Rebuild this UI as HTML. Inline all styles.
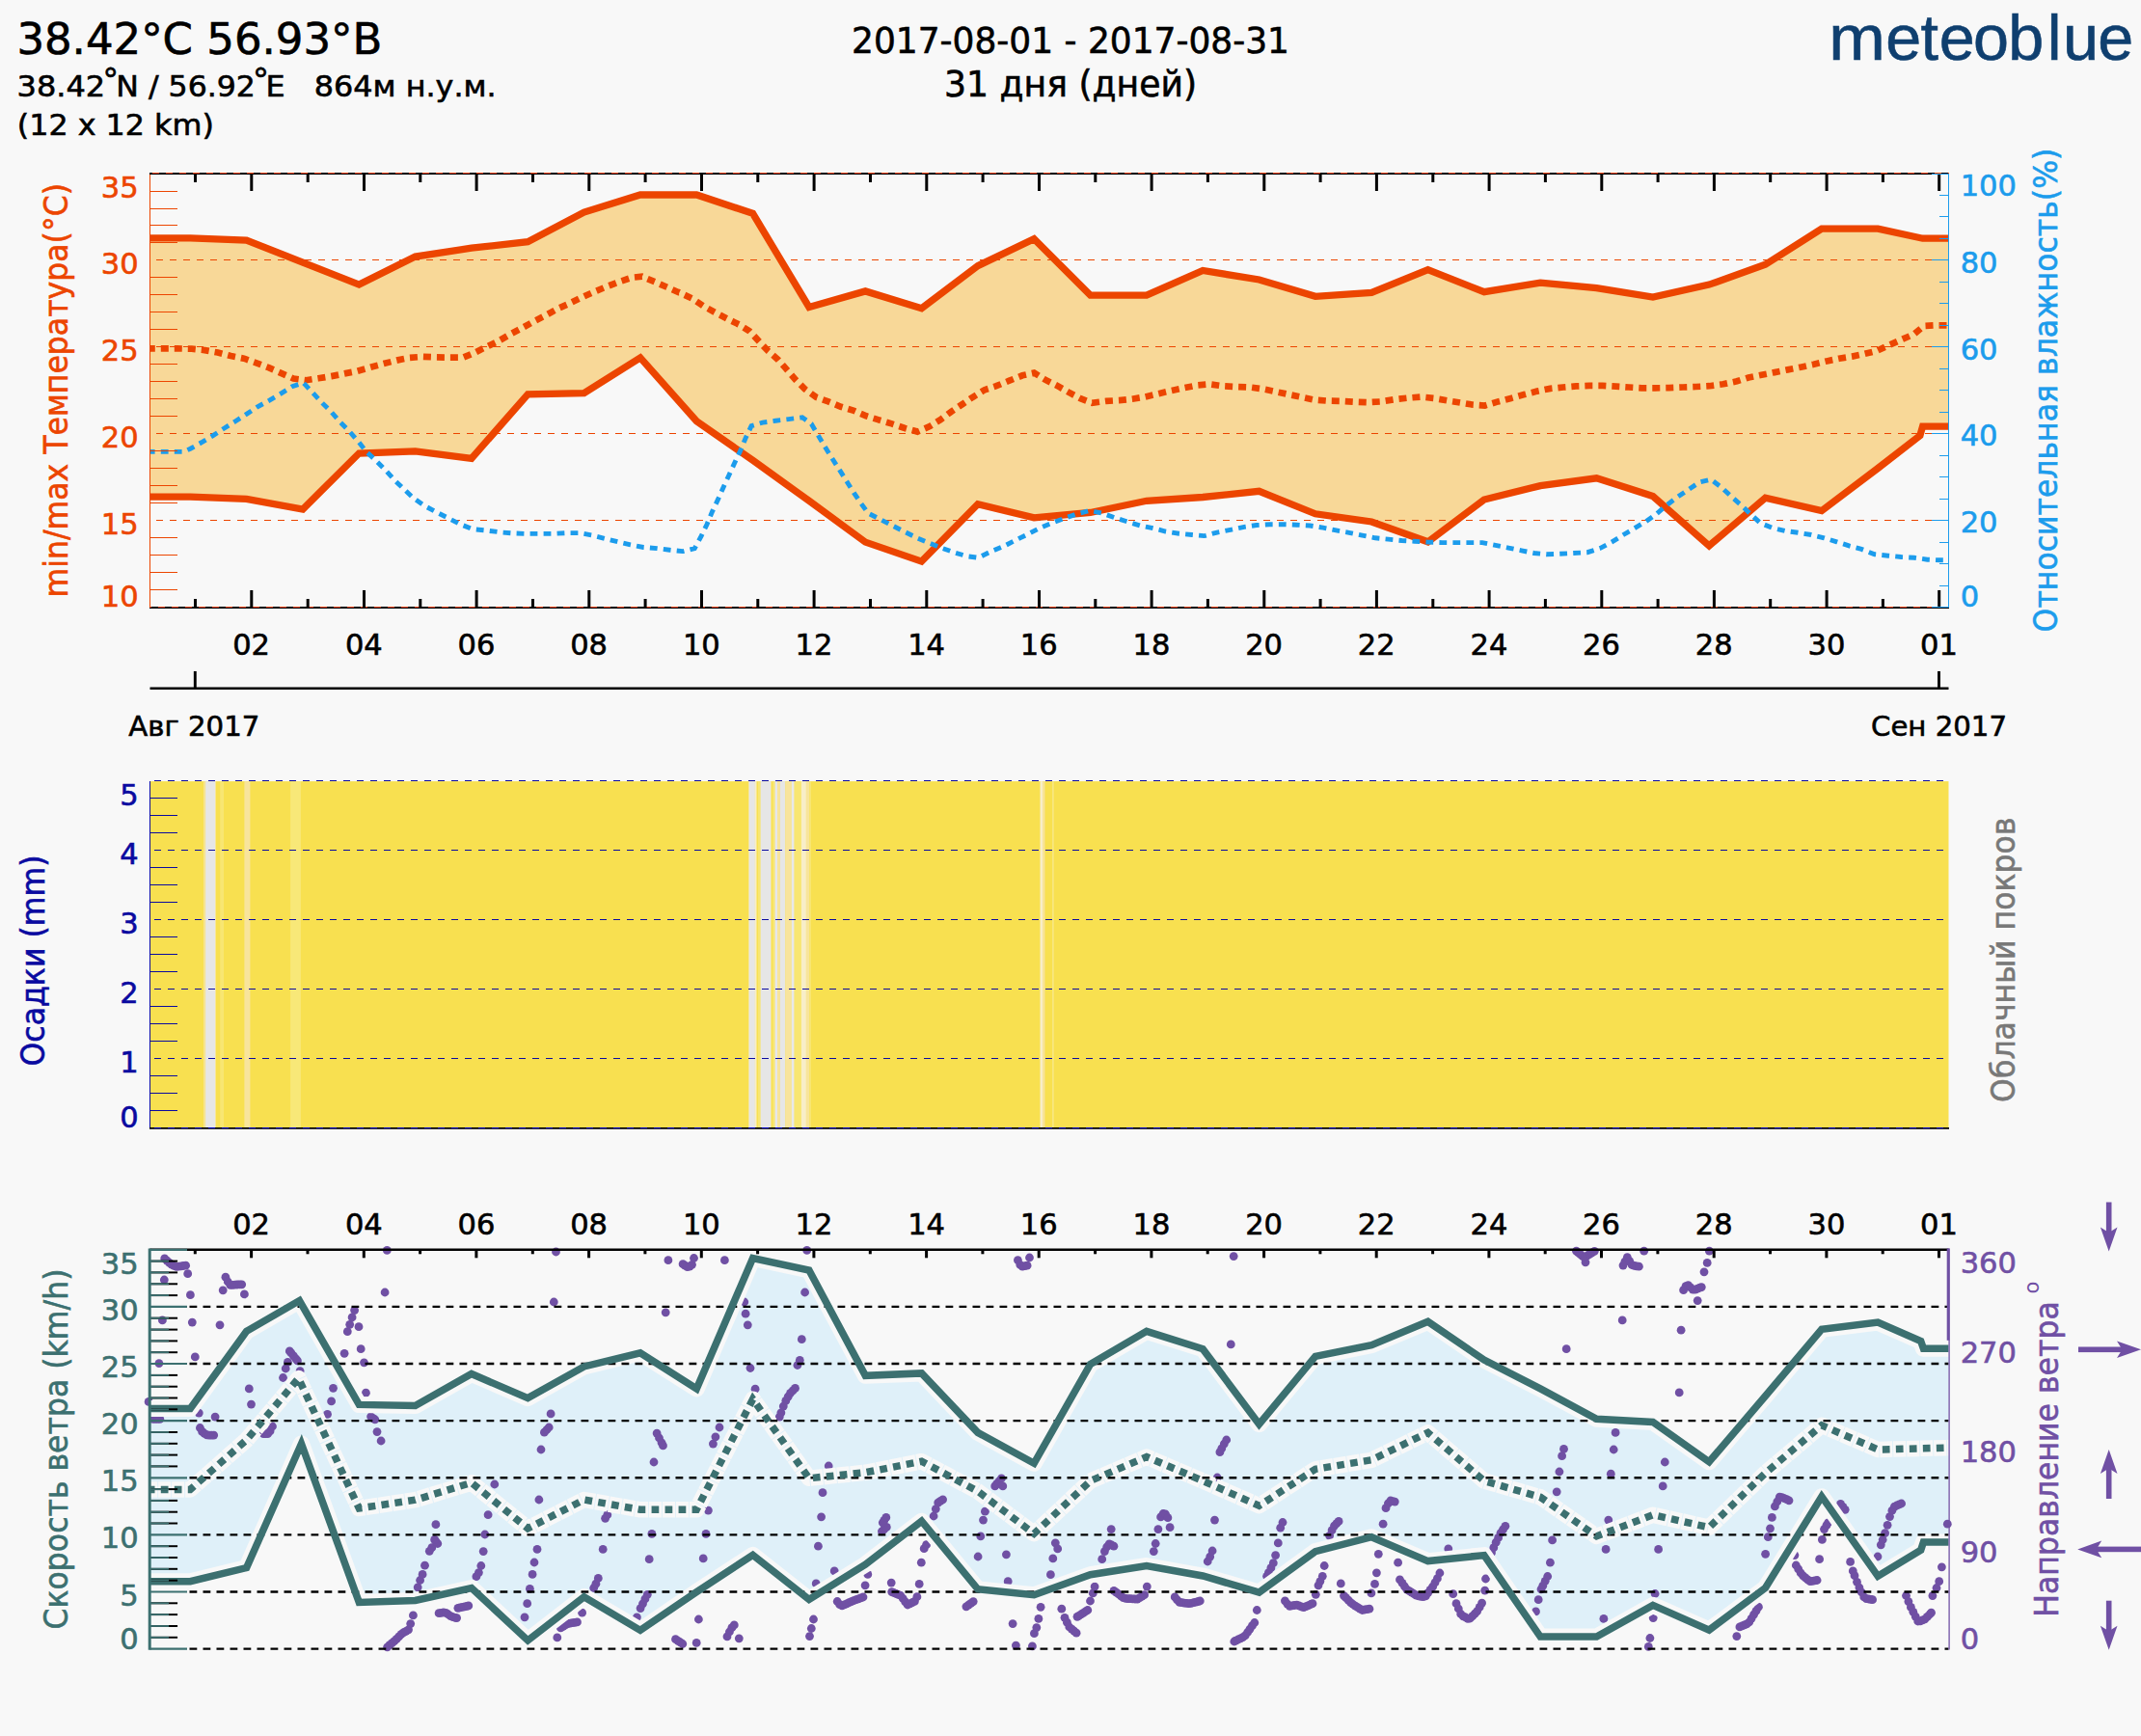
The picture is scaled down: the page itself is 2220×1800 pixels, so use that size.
<!DOCTYPE html>
<html lang="ru"><head><meta charset="utf-8"><title>meteoblue 38.42°C 56.93°В</title>
<style>html,body{margin:0;padding:0;background:#f8f8f8;}svg{display:block;}</style></head>
<body>
<svg width="2220" height="1800" viewBox="0 0 2220 1800" font-family="'DejaVu Sans','Liberation Sans',sans-serif">
<style>text{stroke-width:0.6px;paint-order:stroke fill} .k{stroke:#000} .thin{shape-rendering:crispEdges}</style>
<rect width="2220" height="1800" fill="#f8f8f8"/>
<text x="17.4" y="55.5" font-size="44.5" fill="#000" class="k" textLength="379" lengthAdjust="spacingAndGlyphs">38.42°C 56.93°В</text>
<text y="100.1" font-size="30.6" fill="#000" class="k" xml:space="preserve"><tspan x="17.6" textLength="91.6" lengthAdjust="spacingAndGlyphs">38.42</tspan><tspan x="106.4" dy="-5" font-size="33">°</tspan><tspan x="120.3" dy="5" textLength="144.6" lengthAdjust="spacingAndGlyphs">N / 56.92</tspan><tspan x="262" dy="-5" font-size="34">°</tspan><tspan x="275.4" dy="5" textLength="239.3" lengthAdjust="spacingAndGlyphs">E   864м н.у.м.</tspan></text>
<text x="17.8" y="139.7" font-size="30.6" fill="#000" class="k" textLength="204" lengthAdjust="spacingAndGlyphs">(12 x 12 km)</text>
<text x="1110" y="55.3" font-size="36.5" text-anchor="middle" fill="#000" class="k" textLength="454" lengthAdjust="spacingAndGlyphs">2017-08-01 - 2017-08-31</text>
<text x="1110" y="100.4" font-size="36.5" text-anchor="middle" fill="#000" class="k" textLength="262" lengthAdjust="spacingAndGlyphs">31 дня (дней)</text>
<text y="61.5" font-size="66.5" font-family="'Liberation Sans',sans-serif" fill="#0f3f6f" stroke="#0f3f6f" stroke-width="2.1"><tspan x="1896.2" textLength="58.6" lengthAdjust="spacingAndGlyphs">m</tspan><tspan x="1955.3 1991.6 2010.8 2046 2082.3 2122.8 2139 2175.2">eteoblue</tspan></text>
<polygon points="155.5,246.9 197.3,246.9 255.6,249.1 314.0,272.1 372.3,295.1 430.6,266.1 488.9,257.2 547.3,250.7 605.6,220.1 663.9,202.0 722.3,202.0 780.6,221.4 838.9,318.4 897.3,301.9 955.6,319.7 1013.9,275.6 1072.2,247.7 1130.6,306.2 1188.9,306.2 1247.2,280.5 1305.6,290.0 1363.9,307.3 1422.2,303.5 1480.6,279.7 1538.9,302.7 1597.2,293.2 1655.5,298.6 1713.9,308.1 1772.2,295.1 1830.5,274.3 1888.9,237.2 1947.2,237.2 1993.6,247.2 2020.5,247.2 2020.5,442.1 1993.6,442.1 1990.9,451.6 1947.2,485.5 1888.9,529.6 1830.5,516.1 1772.2,565.9 1713.9,514.4 1655.5,495.8 1597.2,503.6 1538.9,518.0 1480.6,561.8 1422.2,541.0 1363.9,532.8 1305.6,509.3 1247.2,515.5 1188.9,519.3 1130.6,531.5 1072.2,536.9 1013.9,522.8 955.6,582.1 897.3,562.1 838.9,519.3 780.6,477.3 722.3,436.7 663.9,370.9 605.6,407.7 547.3,408.8 488.9,475.4 430.6,467.9 372.3,470.0 314.0,528.0 255.6,517.4 197.3,515.2 155.5,515.2" fill="#f8d898"/>
<line x1="162" y1="269.9" x2="2020.5" y2="269.9" stroke="#ec4500" stroke-width="1" stroke-dasharray="7 7" class="thin"/>
<line x1="162" y1="359.8" x2="2020.5" y2="359.8" stroke="#ec4500" stroke-width="1" stroke-dasharray="7 7" class="thin"/>
<line x1="162" y1="449.7" x2="2020.5" y2="449.7" stroke="#ec4500" stroke-width="1" stroke-dasharray="7 7" class="thin"/>
<line x1="162" y1="539.6" x2="2020.5" y2="539.6" stroke="#ec4500" stroke-width="1" stroke-dasharray="7 7" class="thin"/>
<polyline points="155.5,246.9 197.3,246.9 255.6,249.1 314.0,272.1 372.3,295.1 430.6,266.1 488.9,257.2 547.3,250.7 605.6,220.1 663.9,202.0 722.3,202.0 780.6,221.4 838.9,318.4 897.3,301.9 955.6,319.7 1013.9,275.6 1072.2,247.7 1130.6,306.2 1188.9,306.2 1247.2,280.5 1305.6,290.0 1363.9,307.3 1422.2,303.5 1480.6,279.7 1538.9,302.7 1597.2,293.2 1655.5,298.6 1713.9,308.1 1772.2,295.1 1830.5,274.3 1888.9,237.2 1947.2,237.2 1993.6,247.2 2020.5,247.2" fill="none" stroke="#ec4500" stroke-width="7.3" stroke-linejoin="miter"/>
<polyline points="155.5,515.2 197.3,515.2 255.6,517.4 314.0,528.0 372.3,470.0 430.6,467.9 488.9,475.4 547.3,408.8 605.6,407.7 663.9,370.9 722.3,436.7 780.6,477.3 838.9,519.3 897.3,562.1 955.6,582.1 1013.9,522.8 1072.2,536.9 1130.6,531.5 1188.9,519.3 1247.2,515.5 1305.6,509.3 1363.9,532.8 1422.2,541.0 1480.6,561.8 1538.9,518.0 1597.2,503.6 1655.5,495.8 1713.9,514.4 1772.2,565.9 1830.5,516.1 1888.9,529.6 1947.2,485.5 1990.9,451.6 1993.6,442.1 2020.5,442.1" fill="none" stroke="#ec4500" stroke-width="7.3" stroke-linejoin="miter"/>
<polyline points="155.5,361.4 170.3,361.4 183.8,361.4 198.7,361.7 212.3,363.1 225.8,365.5 239.4,369.0 252.9,371.7 265.9,376.3 278.6,381.2 290.8,386.6 304.3,392.6 317.3,394.2 330.1,392.3 343.6,390.1 357.1,387.4 370.7,384.7 384.2,380.7 397.8,377.1 411.3,373.6 424.8,370.9 438.4,369.8 451.9,370.4 465.5,370.6 480.4,370.6 492.5,365.5 504.7,359.5 516.9,353.6 529.1,346.6 541.3,340.1 553.5,333.3 565.7,327.1 577.8,320.3 590.0,314.9 602.2,308.9 615.7,302.7 628.7,297.3 641.5,292.4 655.0,287.8 665.8,286.7 679.4,292.4 691.6,297.8 703.8,303.2 704.1,303.2 717.6,309.5 729.8,317.6 742.0,324.3 754.2,330.6 766.3,336.5 777.2,343.3 787.2,354.1 796.1,363.6 807.0,373.1 816.4,383.9 825.1,393.9 834.6,403.4 846.2,411.8 858.9,416.4 871.9,421.8 885.5,425.9 898.2,431.3 911.2,435.4 924.7,439.4 938.3,444.0 951.3,447.6 964.0,442.1 974.8,435.4 986.5,426.7 997.9,419.1 1008.7,411.8 1020.9,404.2 1033.1,400.2 1046.6,394.7 1060.1,389.3 1072.3,386.6 1083.2,393.4 1096.7,400.2 1107.5,406.4 1119.7,412.9 1132.4,417.8 1146.8,415.9 1160.3,415.1 1173.9,413.7 1187.4,411.5 1200.9,408.3 1214.5,405.0 1228.0,402.1 1241.6,399.4 1254.1,398.3 1267.6,400.2 1282.0,401.0 1296.0,401.5 1310.1,403.4 1323.1,406.1 1336.7,409.1 1349.6,411.8 1362.4,414.5 1375.9,415.6 1390.8,415.9 1404.9,416.7 1418.4,417.2 1432.0,416.4 1445.5,414.2 1459.9,412.6 1473.4,411.5 1486.9,412.9 1500.5,415.3 1514.0,417.5 1527.6,419.7 1539.7,420.5 1553.3,416.4 1566.8,412.9 1580.4,409.1 1593.9,405.6 1607.4,402.9 1621.0,401.5 1634.5,400.4 1648.1,399.9 1661.6,399.9 1675.7,400.7 1688.7,401.5 1702.2,402.3 1716.3,402.3 1730.6,402.1 1745.0,401.5 1758.5,401.0 1772.6,400.2 1786.7,398.3 1801.0,395.3 1813.0,391.5 1826.5,388.8 1840.1,386.1 1853.6,383.4 1867.1,380.7 1880.7,377.7 1894.2,374.4 1907.0,371.7 1920.5,369.6 1933.5,366.9 1946.5,363.6 1959.2,357.7 1971.9,352.0 1984.4,346.6 1995.0,337.9 2007.4,337.3 2020.5,337.3" fill="none" stroke="#ec4500" stroke-width="6.7" stroke-dasharray="8 6" stroke-dashoffset="2.7"/>
<polyline points="155.5,468.4 190.6,468.4 197.4,465.2 209.6,458.4 220.9,451.6 232.6,444.0 244.2,436.7 255.6,429.4 267.0,421.8 279.4,415.1 290.8,408.3 303.0,400.7 314.6,396.9 324.7,407.7 334.1,417.8 343.6,427.2 353.1,438.1 362.6,447.6 372.0,458.4 380.2,468.7 389.6,477.3 399.1,486.8 409.4,498.2 419.4,507.7 428.9,516.6 439.7,524.2 451.9,530.7 464.1,536.9 477.6,543.7 489.8,548.6 503.4,549.9 518.3,551.8 531.8,552.9 545.3,553.4 560.2,553.4 573.8,553.4 587.3,552.6 600.9,552.6 614.4,555.1 627.9,558.6 640.7,561.8 653.7,564.8 667.2,567.5 681.3,568.6 694.3,570.2 707.8,571.6 708.1,571.6 720.3,568.6 727.1,555.9 733.0,543.7 738.7,530.1 744.7,517.4 750.1,505.2 756.1,492.2 761.7,480.0 767.7,467.3 773.1,454.3 779.1,441.6 790.7,438.1 804.3,436.2 817.8,434.6 831.9,432.7 841.3,439.4 848.4,451.6 855.7,463.8 863.3,476.0 870.6,487.4 877.9,499.0 885.5,511.2 892.8,522.0 900.4,532.3 913.9,539.1 926.9,545.8 938.8,551.8 951.0,557.8 964.0,563.2 976.2,568.1 989.7,572.9 1002.5,576.7 1014.1,578.3 1028.2,571.6 1041.2,566.2 1053.4,559.9 1065.6,554.0 1078.6,547.2 1090.7,542.3 1103.5,537.5 1117.0,532.8 1129.7,529.6 1142.7,532.0 1156.3,536.9 1169.3,541.0 1182.5,545.0 1195.5,547.7 1208.5,551.0 1222.6,553.2 1236.1,554.5 1248.3,555.6 1250.0,555.3 1263.0,551.8 1277.1,549.1 1290.1,546.4 1302.8,544.5 1316.3,543.7 1330.7,543.7 1344.8,544.2 1358.3,545.0 1371.9,547.2 1385.4,549.9 1398.9,552.3 1412.5,555.1 1426.0,557.8 1439.5,559.1 1453.6,560.5 1466.6,561.3 1480.2,562.1 1495.1,562.6 1508.6,562.6 1522.9,562.6 1537.0,562.6 1550.6,565.3 1564.1,568.1 1577.6,570.8 1590.6,573.5 1603.4,574.8 1616.9,574.3 1631.8,573.5 1645.9,572.7 1658.9,568.6 1671.1,562.1 1683.3,554.5 1694.9,547.7 1706.3,541.0 1717.6,532.8 1728.7,523.4 1739.6,515.2 1751.5,507.1 1762.6,499.8 1774.0,497.1 1784.8,505.2 1795.6,515.2 1806.5,524.7 1814.9,532.8 1825.2,542.3 1837.4,547.2 1850.9,550.4 1864.4,552.3 1878.0,554.5 1891.5,557.8 1904.5,561.8 1917.2,565.9 1930.2,569.4 1943.8,574.8 1957.9,576.2 1971.4,577.5 1984.9,578.3 1998.5,580.2 2012.0,580.8 2020.5,580.8" fill="none" stroke="#1c9cec" stroke-width="4.9" stroke-dasharray="7.8 6.2" stroke-dashoffset="2.7"/>
<line x1="155.5" y1="180.0" x2="155.5" y2="629.5" stroke="#ec4500" stroke-width="1" class="thin"/>
<line x1="155.5" y1="611.5" x2="184.0" y2="611.5" stroke="#ec4500" stroke-width="1" class="thin"/>
<line x1="155.5" y1="593.5" x2="184.0" y2="593.5" stroke="#ec4500" stroke-width="1" class="thin"/>
<line x1="155.5" y1="575.6" x2="184.0" y2="575.6" stroke="#ec4500" stroke-width="1" class="thin"/>
<line x1="155.5" y1="557.6" x2="184.0" y2="557.6" stroke="#ec4500" stroke-width="1" class="thin"/>
<line x1="155.5" y1="521.6" x2="184.0" y2="521.6" stroke="#ec4500" stroke-width="1" class="thin"/>
<line x1="155.5" y1="503.6" x2="184.0" y2="503.6" stroke="#ec4500" stroke-width="1" class="thin"/>
<line x1="155.5" y1="485.7" x2="184.0" y2="485.7" stroke="#ec4500" stroke-width="1" class="thin"/>
<line x1="155.5" y1="467.7" x2="184.0" y2="467.7" stroke="#ec4500" stroke-width="1" class="thin"/>
<line x1="155.5" y1="431.7" x2="184.0" y2="431.7" stroke="#ec4500" stroke-width="1" class="thin"/>
<line x1="155.5" y1="413.7" x2="184.0" y2="413.7" stroke="#ec4500" stroke-width="1" class="thin"/>
<line x1="155.5" y1="395.8" x2="184.0" y2="395.8" stroke="#ec4500" stroke-width="1" class="thin"/>
<line x1="155.5" y1="377.8" x2="184.0" y2="377.8" stroke="#ec4500" stroke-width="1" class="thin"/>
<line x1="155.5" y1="341.8" x2="184.0" y2="341.8" stroke="#ec4500" stroke-width="1" class="thin"/>
<line x1="155.5" y1="323.8" x2="184.0" y2="323.8" stroke="#ec4500" stroke-width="1" class="thin"/>
<line x1="155.5" y1="305.9" x2="184.0" y2="305.9" stroke="#ec4500" stroke-width="1" class="thin"/>
<line x1="155.5" y1="287.9" x2="184.0" y2="287.9" stroke="#ec4500" stroke-width="1" class="thin"/>
<line x1="155.5" y1="251.9" x2="184.0" y2="251.9" stroke="#ec4500" stroke-width="1" class="thin"/>
<line x1="155.5" y1="233.9" x2="184.0" y2="233.9" stroke="#ec4500" stroke-width="1" class="thin"/>
<line x1="155.5" y1="216.0" x2="184.0" y2="216.0" stroke="#ec4500" stroke-width="1" class="thin"/>
<line x1="155.5" y1="198.0" x2="184.0" y2="198.0" stroke="#ec4500" stroke-width="1" class="thin"/>
<line x1="155.0" y1="180.0" x2="2021.0" y2="180.0" stroke="#000" stroke-width="2.1"/>
<line x1="158.1" y1="179.5" x2="2020.5" y2="179.5" stroke="#ec4500" stroke-width="1" stroke-dasharray="7 7" class="thin"/>
<line x1="202.5" y1="180.0" x2="202.5" y2="189.0" stroke="#000" stroke-width="3"/>
<line x1="260.8" y1="180.0" x2="260.8" y2="198.0" stroke="#000" stroke-width="3"/>
<line x1="319.2" y1="180.0" x2="319.2" y2="189.0" stroke="#000" stroke-width="3"/>
<line x1="377.5" y1="180.0" x2="377.5" y2="198.0" stroke="#000" stroke-width="3"/>
<line x1="435.8" y1="180.0" x2="435.8" y2="189.0" stroke="#000" stroke-width="3"/>
<line x1="494.1" y1="180.0" x2="494.1" y2="198.0" stroke="#000" stroke-width="3"/>
<line x1="552.5" y1="180.0" x2="552.5" y2="189.0" stroke="#000" stroke-width="3"/>
<line x1="610.8" y1="180.0" x2="610.8" y2="198.0" stroke="#000" stroke-width="3"/>
<line x1="669.1" y1="180.0" x2="669.1" y2="189.0" stroke="#000" stroke-width="3"/>
<line x1="727.5" y1="180.0" x2="727.5" y2="198.0" stroke="#000" stroke-width="3"/>
<line x1="785.8" y1="180.0" x2="785.8" y2="189.0" stroke="#000" stroke-width="3"/>
<line x1="844.1" y1="180.0" x2="844.1" y2="198.0" stroke="#000" stroke-width="3"/>
<line x1="902.5" y1="180.0" x2="902.5" y2="189.0" stroke="#000" stroke-width="3"/>
<line x1="960.8" y1="180.0" x2="960.8" y2="198.0" stroke="#000" stroke-width="3"/>
<line x1="1019.1" y1="180.0" x2="1019.1" y2="189.0" stroke="#000" stroke-width="3"/>
<line x1="1077.5" y1="180.0" x2="1077.5" y2="198.0" stroke="#000" stroke-width="3"/>
<line x1="1135.8" y1="180.0" x2="1135.8" y2="189.0" stroke="#000" stroke-width="3"/>
<line x1="1194.1" y1="180.0" x2="1194.1" y2="198.0" stroke="#000" stroke-width="3"/>
<line x1="1252.4" y1="180.0" x2="1252.4" y2="189.0" stroke="#000" stroke-width="3"/>
<line x1="1310.8" y1="180.0" x2="1310.8" y2="198.0" stroke="#000" stroke-width="3"/>
<line x1="1369.1" y1="180.0" x2="1369.1" y2="189.0" stroke="#000" stroke-width="3"/>
<line x1="1427.4" y1="180.0" x2="1427.4" y2="198.0" stroke="#000" stroke-width="3"/>
<line x1="1485.8" y1="180.0" x2="1485.8" y2="189.0" stroke="#000" stroke-width="3"/>
<line x1="1544.1" y1="180.0" x2="1544.1" y2="198.0" stroke="#000" stroke-width="3"/>
<line x1="1602.4" y1="180.0" x2="1602.4" y2="189.0" stroke="#000" stroke-width="3"/>
<line x1="1660.8" y1="180.0" x2="1660.8" y2="198.0" stroke="#000" stroke-width="3"/>
<line x1="1719.1" y1="180.0" x2="1719.1" y2="189.0" stroke="#000" stroke-width="3"/>
<line x1="1777.4" y1="180.0" x2="1777.4" y2="198.0" stroke="#000" stroke-width="3"/>
<line x1="1835.7" y1="180.0" x2="1835.7" y2="189.0" stroke="#000" stroke-width="3"/>
<line x1="1894.1" y1="180.0" x2="1894.1" y2="198.0" stroke="#000" stroke-width="3"/>
<line x1="1952.4" y1="180.0" x2="1952.4" y2="189.0" stroke="#000" stroke-width="3"/>
<line x1="2010.7" y1="180.0" x2="2010.7" y2="198.0" stroke="#000" stroke-width="3"/>
<line x1="155.0" y1="630.0" x2="2021.0" y2="630.0" stroke="#000" stroke-width="2.1"/>
<line x1="155" y1="629.5" x2="2020.5" y2="629.5" stroke="#ec4500" stroke-width="1" stroke-dasharray="7 7" stroke-dashoffset="5" class="thin"/>
<line x1="202.5" y1="630.0" x2="202.5" y2="621.0" stroke="#000" stroke-width="3"/>
<line x1="260.8" y1="630.0" x2="260.8" y2="612.0" stroke="#000" stroke-width="3"/>
<line x1="319.2" y1="630.0" x2="319.2" y2="621.0" stroke="#000" stroke-width="3"/>
<line x1="377.5" y1="630.0" x2="377.5" y2="612.0" stroke="#000" stroke-width="3"/>
<line x1="435.8" y1="630.0" x2="435.8" y2="621.0" stroke="#000" stroke-width="3"/>
<line x1="494.1" y1="630.0" x2="494.1" y2="612.0" stroke="#000" stroke-width="3"/>
<line x1="552.5" y1="630.0" x2="552.5" y2="621.0" stroke="#000" stroke-width="3"/>
<line x1="610.8" y1="630.0" x2="610.8" y2="612.0" stroke="#000" stroke-width="3"/>
<line x1="669.1" y1="630.0" x2="669.1" y2="621.0" stroke="#000" stroke-width="3"/>
<line x1="727.5" y1="630.0" x2="727.5" y2="612.0" stroke="#000" stroke-width="3"/>
<line x1="785.8" y1="630.0" x2="785.8" y2="621.0" stroke="#000" stroke-width="3"/>
<line x1="844.1" y1="630.0" x2="844.1" y2="612.0" stroke="#000" stroke-width="3"/>
<line x1="902.5" y1="630.0" x2="902.5" y2="621.0" stroke="#000" stroke-width="3"/>
<line x1="960.8" y1="630.0" x2="960.8" y2="612.0" stroke="#000" stroke-width="3"/>
<line x1="1019.1" y1="630.0" x2="1019.1" y2="621.0" stroke="#000" stroke-width="3"/>
<line x1="1077.5" y1="630.0" x2="1077.5" y2="612.0" stroke="#000" stroke-width="3"/>
<line x1="1135.8" y1="630.0" x2="1135.8" y2="621.0" stroke="#000" stroke-width="3"/>
<line x1="1194.1" y1="630.0" x2="1194.1" y2="612.0" stroke="#000" stroke-width="3"/>
<line x1="1252.4" y1="630.0" x2="1252.4" y2="621.0" stroke="#000" stroke-width="3"/>
<line x1="1310.8" y1="630.0" x2="1310.8" y2="612.0" stroke="#000" stroke-width="3"/>
<line x1="1369.1" y1="630.0" x2="1369.1" y2="621.0" stroke="#000" stroke-width="3"/>
<line x1="1427.4" y1="630.0" x2="1427.4" y2="612.0" stroke="#000" stroke-width="3"/>
<line x1="1485.8" y1="630.0" x2="1485.8" y2="621.0" stroke="#000" stroke-width="3"/>
<line x1="1544.1" y1="630.0" x2="1544.1" y2="612.0" stroke="#000" stroke-width="3"/>
<line x1="1602.4" y1="630.0" x2="1602.4" y2="621.0" stroke="#000" stroke-width="3"/>
<line x1="1660.8" y1="630.0" x2="1660.8" y2="612.0" stroke="#000" stroke-width="3"/>
<line x1="1719.1" y1="630.0" x2="1719.1" y2="621.0" stroke="#000" stroke-width="3"/>
<line x1="1777.4" y1="630.0" x2="1777.4" y2="612.0" stroke="#000" stroke-width="3"/>
<line x1="1835.7" y1="630.0" x2="1835.7" y2="621.0" stroke="#000" stroke-width="3"/>
<line x1="1894.1" y1="630.0" x2="1894.1" y2="612.0" stroke="#000" stroke-width="3"/>
<line x1="1952.4" y1="630.0" x2="1952.4" y2="621.0" stroke="#000" stroke-width="3"/>
<line x1="2010.7" y1="630.0" x2="2010.7" y2="612.0" stroke="#000" stroke-width="3"/>
<line x1="2020.5" y1="180.0" x2="2020.5" y2="629.5" stroke="#1c9cec" stroke-width="1" class="thin"/>
<line x1="2002.5" y1="629.5" x2="2020.5" y2="629.5" stroke="#1c9cec" stroke-width="1" class="thin"/>
<line x1="2011.0" y1="607.0" x2="2020.5" y2="607.0" stroke="#1c9cec" stroke-width="1" class="thin"/>
<line x1="2011.0" y1="584.5" x2="2020.5" y2="584.5" stroke="#1c9cec" stroke-width="1" class="thin"/>
<line x1="2011.0" y1="562.1" x2="2020.5" y2="562.1" stroke="#1c9cec" stroke-width="1" class="thin"/>
<line x1="2002.5" y1="539.6" x2="2020.5" y2="539.6" stroke="#1c9cec" stroke-width="1" class="thin"/>
<line x1="2011.0" y1="517.1" x2="2020.5" y2="517.1" stroke="#1c9cec" stroke-width="1" class="thin"/>
<line x1="2011.0" y1="494.6" x2="2020.5" y2="494.6" stroke="#1c9cec" stroke-width="1" class="thin"/>
<line x1="2011.0" y1="472.2" x2="2020.5" y2="472.2" stroke="#1c9cec" stroke-width="1" class="thin"/>
<line x1="2002.5" y1="449.7" x2="2020.5" y2="449.7" stroke="#1c9cec" stroke-width="1" class="thin"/>
<line x1="2011.0" y1="427.2" x2="2020.5" y2="427.2" stroke="#1c9cec" stroke-width="1" class="thin"/>
<line x1="2011.0" y1="404.8" x2="2020.5" y2="404.8" stroke="#1c9cec" stroke-width="1" class="thin"/>
<line x1="2011.0" y1="382.3" x2="2020.5" y2="382.3" stroke="#1c9cec" stroke-width="1" class="thin"/>
<line x1="2002.5" y1="359.8" x2="2020.5" y2="359.8" stroke="#1c9cec" stroke-width="1" class="thin"/>
<line x1="2011.0" y1="337.3" x2="2020.5" y2="337.3" stroke="#1c9cec" stroke-width="1" class="thin"/>
<line x1="2011.0" y1="314.9" x2="2020.5" y2="314.9" stroke="#1c9cec" stroke-width="1" class="thin"/>
<line x1="2011.0" y1="292.4" x2="2020.5" y2="292.4" stroke="#1c9cec" stroke-width="1" class="thin"/>
<line x1="2002.5" y1="269.9" x2="2020.5" y2="269.9" stroke="#1c9cec" stroke-width="1" class="thin"/>
<line x1="2011.0" y1="247.4" x2="2020.5" y2="247.4" stroke="#1c9cec" stroke-width="1" class="thin"/>
<line x1="2011.0" y1="224.9" x2="2020.5" y2="224.9" stroke="#1c9cec" stroke-width="1" class="thin"/>
<line x1="2011.0" y1="202.5" x2="2020.5" y2="202.5" stroke="#1c9cec" stroke-width="1" class="thin"/>
<line x1="2002.5" y1="180.0" x2="2020.5" y2="180.0" stroke="#1c9cec" stroke-width="1" class="thin"/>
<text x="143.6" y="204.6" font-size="30.5" text-anchor="end" fill="#ec4500" stroke="#ec4500">35</text>
<text x="143.6" y="284.0" font-size="30.5" text-anchor="end" fill="#ec4500" stroke="#ec4500">30</text>
<text x="143.6" y="373.8" font-size="30.5" text-anchor="end" fill="#ec4500" stroke="#ec4500">25</text>
<text x="143.6" y="463.7" font-size="30.5" text-anchor="end" fill="#ec4500" stroke="#ec4500">20</text>
<text x="143.6" y="553.6" font-size="30.5" text-anchor="end" fill="#ec4500" stroke="#ec4500">15</text>
<text x="143.6" y="629.3" font-size="30.5" text-anchor="end" fill="#ec4500" stroke="#ec4500">10</text>
<text x="2032.7" y="202.6" font-size="30.5" fill="#1c9cec" stroke="#1c9cec">100</text>
<text x="2032.7" y="282.6" font-size="30.5" fill="#1c9cec" stroke="#1c9cec">80</text>
<text x="2032.7" y="372.5" font-size="30.5" fill="#1c9cec" stroke="#1c9cec">60</text>
<text x="2032.7" y="462.4" font-size="30.5" fill="#1c9cec" stroke="#1c9cec">40</text>
<text x="2032.7" y="552.3" font-size="30.5" fill="#1c9cec" stroke="#1c9cec">20</text>
<text x="2032.7" y="629.0" font-size="30.5" fill="#1c9cec" stroke="#1c9cec">0</text>
<text transform="translate(69.8,404.8) rotate(-90) scale(0.915,1)" font-size="34.5" text-anchor="middle" fill="#ec4500" stroke="#ec4500">min/max Температура(°C)</text>
<text transform="translate(2132.6,404.5) rotate(-90) scale(0.915,1)" font-size="34.5" text-anchor="middle" fill="#1c9cec" stroke="#1c9cec">Относительная влажность(%)</text>
<text x="260.6" y="679" font-size="30.5" text-anchor="middle" fill="#000" class="k">02</text>
<text x="377.3" y="679" font-size="30.5" text-anchor="middle" fill="#000" class="k">04</text>
<text x="493.9" y="679" font-size="30.5" text-anchor="middle" fill="#000" class="k">06</text>
<text x="610.6" y="679" font-size="30.5" text-anchor="middle" fill="#000" class="k">08</text>
<text x="727.3" y="679" font-size="30.5" text-anchor="middle" fill="#000" class="k">10</text>
<text x="843.9" y="679" font-size="30.5" text-anchor="middle" fill="#000" class="k">12</text>
<text x="960.6" y="679" font-size="30.5" text-anchor="middle" fill="#000" class="k">14</text>
<text x="1077.2" y="679" font-size="30.5" text-anchor="middle" fill="#000" class="k">16</text>
<text x="1193.9" y="679" font-size="30.5" text-anchor="middle" fill="#000" class="k">18</text>
<text x="1310.6" y="679" font-size="30.5" text-anchor="middle" fill="#000" class="k">20</text>
<text x="1427.2" y="679" font-size="30.5" text-anchor="middle" fill="#000" class="k">22</text>
<text x="1543.9" y="679" font-size="30.5" text-anchor="middle" fill="#000" class="k">24</text>
<text x="1660.5" y="679" font-size="30.5" text-anchor="middle" fill="#000" class="k">26</text>
<text x="1777.2" y="679" font-size="30.5" text-anchor="middle" fill="#000" class="k">28</text>
<text x="1893.9" y="679" font-size="30.5" text-anchor="middle" fill="#000" class="k">30</text>
<text x="2010.5" y="679" font-size="30.5" text-anchor="middle" fill="#000" class="k">01</text>
<line x1="155.5" y1="713.8" x2="2020.5" y2="713.8" stroke="#000" stroke-width="2.4"/>
<line x1="202.3" y1="696" x2="202.3" y2="713.8" stroke="#000" stroke-width="2.9"/>
<line x1="2010.5" y1="696" x2="2010.5" y2="713.8" stroke="#000" stroke-width="2.9"/>
<text x="201.3" y="762.6" font-size="29.2" text-anchor="middle" fill="#000" class="k">Авг 2017</text>
<text x="2010.5" y="762.6" font-size="29.2" text-anchor="middle" fill="#000" class="k">Сен 2017</text>
<rect x="155.5" y="810.1" width="1865.0" height="359.19999999999993" fill="#f8e050"/>
<rect x="211.0" y="810.1" width="2.1" height="359.19999999999993" fill="#f6e490"/>
<rect x="213.1" y="810.1" width="10.0" height="359.19999999999993" fill="#e6e6e6"/>
<rect x="223.1" y="810.1" width="0.9" height="359.19999999999993" fill="#f8e8a0"/>
<rect x="228.2" y="810.1" width="3.8" height="359.19999999999993" fill="#f8e672"/>
<rect x="253.4" y="810.1" width="6.0" height="359.19999999999993" fill="#f8e49c"/>
<rect x="301.1" y="810.1" width="10.8" height="359.19999999999993" fill="#f8e878"/>
<rect x="776.1" y="810.1" width="0.7" height="359.19999999999993" fill="#f4e8b8"/>
<rect x="776.8" y="810.1" width="6.1" height="359.19999999999993" fill="#e6e6e6"/>
<rect x="782.9" y="810.1" width="1.6" height="359.19999999999993" fill="#f8eec8"/>
<rect x="785.9" y="810.1" width="2.4" height="359.19999999999993" fill="#f8e672"/>
<rect x="788.3" y="810.1" width="0.5" height="359.19999999999993" fill="#f0e8c0"/>
<rect x="788.8" y="810.1" width="10.2" height="359.19999999999993" fill="#e6e6e6"/>
<rect x="799.0" y="810.1" width="0.7" height="359.19999999999993" fill="#f2e8b8"/>
<rect x="801.1" y="810.1" width="2.1" height="359.19999999999993" fill="#f8e672"/>
<rect x="803.2" y="810.1" width="0.5" height="359.19999999999993" fill="#f0e8c0"/>
<rect x="803.7" y="810.1" width="2.3" height="359.19999999999993" fill="#e6e6ea"/>
<rect x="806.0" y="810.1" width="2.8" height="359.19999999999993" fill="#f8e49c"/>
<rect x="808.8" y="810.1" width="5.4" height="359.19999999999993" fill="#e6e6e6"/>
<rect x="814.2" y="810.1" width="0.4" height="359.19999999999993" fill="#f0e8c8"/>
<rect x="814.6" y="810.1" width="5.7" height="359.19999999999993" fill="#f8e49c"/>
<rect x="820.3" y="810.1" width="0.4" height="359.19999999999993" fill="#f4eac0"/>
<rect x="820.7" y="810.1" width="2.8" height="359.19999999999993" fill="#e8e8ea"/>
<rect x="823.5" y="810.1" width="0.5" height="359.19999999999993" fill="#f4e8a0"/>
<rect x="824.0" y="810.1" width="6.5" height="359.19999999999993" fill="#f8e672"/>
<rect x="830.5" y="810.1" width="0.5" height="359.19999999999993" fill="#f8ea98"/>
<rect x="831.0" y="810.1" width="4.9" height="359.19999999999993" fill="#f8eec8"/>
<rect x="835.9" y="810.1" width="3.5" height="359.19999999999993" fill="#f8e49c"/>
<rect x="839.4" y="810.1" width="1.6" height="359.19999999999993" fill="#f8e672"/>
<rect x="1078.5" y="810.1" width="2.6" height="359.19999999999993" fill="#f8eec8"/>
<rect x="1081.1" y="810.1" width="2.3" height="359.19999999999993" fill="#f8e49c"/>
<rect x="1091.1" y="810.1" width="1.6" height="359.19999999999993" fill="#f8e884"/>
<line x1="159.9" y1="809.5" x2="2020.5" y2="809.5" stroke="#0a0aa0" stroke-width="1" stroke-dasharray="7 7" class="thin"/>
<line x1="159.9" y1="881.5" x2="2020.5" y2="881.5" stroke="#0a0aa0" stroke-width="1" stroke-dasharray="7 7" class="thin"/>
<line x1="159.9" y1="953.4" x2="2020.5" y2="953.4" stroke="#0a0aa0" stroke-width="1" stroke-dasharray="7 7" class="thin"/>
<line x1="159.9" y1="1025.4" x2="2020.5" y2="1025.4" stroke="#0a0aa0" stroke-width="1" stroke-dasharray="7 7" class="thin"/>
<line x1="159.9" y1="1097.3" x2="2020.5" y2="1097.3" stroke="#0a0aa0" stroke-width="1" stroke-dasharray="7 7" class="thin"/>
<line x1="155.0" y1="1169.9" x2="2021.0" y2="1169.9" stroke="#000" stroke-width="1.9"/>
<line x1="159.9" y1="1169.5" x2="2020.5" y2="1169.5" stroke="#0000c8" stroke-width="1" stroke-dasharray="7 7" class="thin"/>
<line x1="155.5" y1="809.5" x2="155.5" y2="1169.3" stroke="#0a0aa0" stroke-width="1" class="thin"/>
<line x1="155.5" y1="1151.3" x2="184.0" y2="1151.3" stroke="#0a0aa0" stroke-width="1" class="thin"/>
<line x1="155.5" y1="1133.3" x2="184.0" y2="1133.3" stroke="#0a0aa0" stroke-width="1" class="thin"/>
<line x1="155.5" y1="1115.3" x2="184.0" y2="1115.3" stroke="#0a0aa0" stroke-width="1" class="thin"/>
<line x1="155.5" y1="1079.3" x2="184.0" y2="1079.3" stroke="#0a0aa0" stroke-width="1" class="thin"/>
<line x1="155.5" y1="1061.4" x2="184.0" y2="1061.4" stroke="#0a0aa0" stroke-width="1" class="thin"/>
<line x1="155.5" y1="1043.4" x2="184.0" y2="1043.4" stroke="#0a0aa0" stroke-width="1" class="thin"/>
<line x1="155.5" y1="1007.4" x2="184.0" y2="1007.4" stroke="#0a0aa0" stroke-width="1" class="thin"/>
<line x1="155.5" y1="989.4" x2="184.0" y2="989.4" stroke="#0a0aa0" stroke-width="1" class="thin"/>
<line x1="155.5" y1="971.4" x2="184.0" y2="971.4" stroke="#0a0aa0" stroke-width="1" class="thin"/>
<line x1="155.5" y1="935.4" x2="184.0" y2="935.4" stroke="#0a0aa0" stroke-width="1" class="thin"/>
<line x1="155.5" y1="917.4" x2="184.0" y2="917.4" stroke="#0a0aa0" stroke-width="1" class="thin"/>
<line x1="155.5" y1="899.5" x2="184.0" y2="899.5" stroke="#0a0aa0" stroke-width="1" class="thin"/>
<line x1="155.5" y1="863.5" x2="184.0" y2="863.5" stroke="#0a0aa0" stroke-width="1" class="thin"/>
<line x1="155.5" y1="845.5" x2="184.0" y2="845.5" stroke="#0a0aa0" stroke-width="1" class="thin"/>
<line x1="155.5" y1="827.5" x2="184.0" y2="827.5" stroke="#0a0aa0" stroke-width="1" class="thin"/>
<text x="143.6" y="834.5" font-size="30.5" text-anchor="end" fill="#0a0aa0" stroke="#0a0aa0">5</text>
<text x="143.6" y="896.2" font-size="30.5" text-anchor="end" fill="#0a0aa0" stroke="#0a0aa0">4</text>
<text x="143.6" y="968.0" font-size="30.5" text-anchor="end" fill="#0a0aa0" stroke="#0a0aa0">3</text>
<text x="143.6" y="1039.9" font-size="30.5" text-anchor="end" fill="#0a0aa0" stroke="#0a0aa0">2</text>
<text x="143.6" y="1111.7" font-size="30.5" text-anchor="end" fill="#0a0aa0" stroke="#0a0aa0">1</text>
<text x="143.6" y="1169.4" font-size="30.5" text-anchor="end" fill="#0a0aa0" stroke="#0a0aa0">0</text>
<text transform="translate(46.2,996) rotate(-90) scale(0.915,1)" font-size="34.5" text-anchor="middle" fill="#0a0aa0" stroke="#0a0aa0">Осадки (mm)</text>
<text transform="translate(2088.8,995.2) rotate(-90) scale(0.915,1)" font-size="34.5" text-anchor="middle" fill="#787878" stroke="#787878">Облачный покров</text>
<text x="260.6" y="1280" font-size="30.5" text-anchor="middle" fill="#000" class="k">02</text>
<text x="377.3" y="1280" font-size="30.5" text-anchor="middle" fill="#000" class="k">04</text>
<text x="493.9" y="1280" font-size="30.5" text-anchor="middle" fill="#000" class="k">06</text>
<text x="610.6" y="1280" font-size="30.5" text-anchor="middle" fill="#000" class="k">08</text>
<text x="727.3" y="1280" font-size="30.5" text-anchor="middle" fill="#000" class="k">10</text>
<text x="843.9" y="1280" font-size="30.5" text-anchor="middle" fill="#000" class="k">12</text>
<text x="960.6" y="1280" font-size="30.5" text-anchor="middle" fill="#000" class="k">14</text>
<text x="1077.2" y="1280" font-size="30.5" text-anchor="middle" fill="#000" class="k">16</text>
<text x="1193.9" y="1280" font-size="30.5" text-anchor="middle" fill="#000" class="k">18</text>
<text x="1310.6" y="1280" font-size="30.5" text-anchor="middle" fill="#000" class="k">20</text>
<text x="1427.2" y="1280" font-size="30.5" text-anchor="middle" fill="#000" class="k">22</text>
<text x="1543.9" y="1280" font-size="30.5" text-anchor="middle" fill="#000" class="k">24</text>
<text x="1660.5" y="1280" font-size="30.5" text-anchor="middle" fill="#000" class="k">26</text>
<text x="1777.2" y="1280" font-size="30.5" text-anchor="middle" fill="#000" class="k">28</text>
<text x="1893.9" y="1280" font-size="30.5" text-anchor="middle" fill="#000" class="k">30</text>
<text x="2010.5" y="1280" font-size="30.5" text-anchor="middle" fill="#000" class="k">01</text>
<polygon points="155.5,1460.5 197.3,1460.5 255.6,1380.3 310.5,1348.6 372.3,1456.4 430.6,1457.5 488.9,1424.5 547.3,1449.6 605.6,1416.9 663.9,1402.8 722.3,1439.9 780.6,1304.5 838.9,1317.0 897.3,1426.3 955.6,1423.9 1013.9,1485.4 1072.2,1517.3 1130.6,1414.4 1188.9,1380.3 1247.2,1398.7 1305.6,1476.7 1363.9,1406.3 1422.2,1394.7 1480.6,1370.3 1538.9,1410.1 1597.2,1439.9 1655.5,1471.3 1713.9,1474.5 1772.2,1515.7 1830.5,1447.5 1888.9,1378.4 1947.2,1371.1 1991.7,1390.6 1994.4,1398.2 2020.5,1398.2 2020.5,1599.1 1994.4,1599.1 1991.7,1607.2 1947.2,1634.3 1888.9,1551.7 1830.5,1646.5 1772.2,1690.1 1713.9,1664.4 1655.5,1697.1 1597.2,1697.1 1538.9,1612.6 1480.6,1618.6 1422.2,1593.7 1363.9,1608.6 1305.6,1651.1 1247.2,1634.0 1188.9,1623.5 1130.6,1632.7 1072.2,1653.8 1013.9,1647.8 955.6,1577.2 897.3,1622.1 838.9,1658.4 780.6,1612.4 722.3,1650.6 663.9,1690.4 605.6,1655.7 547.3,1700.9 488.9,1646.5 430.6,1659.5 372.3,1661.4 312.5,1497.0 255.6,1625.6 197.3,1639.7 155.5,1639.7" fill="#dff0f9"/>
<g fill="#7050a4"><circle cx="170.7" cy="1304.9" r="4.4"/><circle cx="173.1" cy="1307.1" r="4.4"/><circle cx="175.6" cy="1309.3" r="4.4"/><circle cx="178.0" cy="1311.2" r="4.4"/><circle cx="180.4" cy="1312.4" r="4.4"/><circle cx="182.9" cy="1313.4" r="4.4"/><circle cx="185.3" cy="1313.1" r="4.4"/><circle cx="187.7" cy="1312.8" r="4.4"/><circle cx="190.1" cy="1312.5" r="4.4"/><circle cx="192.6" cy="1312.2" r="4.4"/><circle cx="194.7" cy="1320.7" r="4.4"/><circle cx="170.3" cy="1327.0" r="4.4"/><circle cx="197.4" cy="1342.7" r="4.4"/><circle cx="168.4" cy="1368.9" r="4.4"/><circle cx="199.3" cy="1371.1" r="4.4"/><circle cx="202.3" cy="1406.9" r="4.4"/><circle cx="164.9" cy="1413.6" r="4.4"/><circle cx="154.1" cy="1453.4" r="4.4"/><circle cx="158.6" cy="1471.3" r="4.4"/><circle cx="161.0" cy="1471.3" r="4.4"/><circle cx="163.4" cy="1471.3" r="4.4"/><circle cx="165.8" cy="1471.3" r="4.4"/><circle cx="206.3" cy="1465.1" r="4.4"/><circle cx="207.4" cy="1480.5" r="4.4"/><circle cx="209.6" cy="1484.4" r="4.4"/><circle cx="212.0" cy="1486.4" r="4.4"/><circle cx="214.5" cy="1487.8" r="4.4"/><circle cx="216.9" cy="1488.1" r="4.4"/><circle cx="219.3" cy="1488.1" r="4.4"/><circle cx="221.7" cy="1488.1" r="4.4"/><circle cx="223.1" cy="1469.1" r="4.4"/><circle cx="228.0" cy="1373.8" r="4.4"/><circle cx="231.2" cy="1337.8" r="4.4"/><circle cx="233.9" cy="1324.2" r="4.4"/><circle cx="236.3" cy="1329.0" r="4.4"/><circle cx="238.8" cy="1332.4" r="4.4"/><circle cx="241.2" cy="1332.3" r="4.4"/><circle cx="243.6" cy="1332.1" r="4.4"/><circle cx="246.0" cy="1332.0" r="4.4"/><circle cx="248.5" cy="1331.9" r="4.4"/><circle cx="250.7" cy="1331.8" r="4.4"/><circle cx="253.4" cy="1341.9" r="4.4"/><circle cx="258.3" cy="1439.9" r="4.4"/><circle cx="260.5" cy="1456.1" r="4.4"/><circle cx="273.2" cy="1486.7" r="4.4"/><circle cx="275.2" cy="1486.7" r="4.4"/><circle cx="277.6" cy="1486.7" r="4.4"/><circle cx="280.1" cy="1483.8" r="4.4"/><circle cx="282.5" cy="1479.0" r="4.4"/><circle cx="293.5" cy="1428.5" r="4.4"/><circle cx="296.2" cy="1419.0" r="4.4"/><circle cx="298.4" cy="1412.3" r="4.4"/><circle cx="300.3" cy="1400.9" r="4.4"/><circle cx="301.9" cy="1402.9" r="4.4"/><circle cx="304.4" cy="1405.9" r="4.4"/><circle cx="306.8" cy="1408.9" r="4.4"/><circle cx="308.4" cy="1410.9" r="4.4"/><circle cx="311.1" cy="1421.7" r="4.4"/><circle cx="339.5" cy="1466.4" r="4.4"/><circle cx="343.6" cy="1452.9" r="4.4"/><circle cx="345.5" cy="1439.3" r="4.4"/><circle cx="357.1" cy="1403.3" r="4.4"/><circle cx="360.3" cy="1380.7" r="4.4"/><circle cx="362.7" cy="1373.3" r="4.4"/><circle cx="365.1" cy="1365.9" r="4.4"/><circle cx="367.6" cy="1358.6" r="4.4"/><circle cx="372.0" cy="1375.7" r="4.4"/><circle cx="374.2" cy="1398.7" r="4.4"/><circle cx="377.5" cy="1412.8" r="4.4"/><circle cx="379.4" cy="1444.2" r="4.4"/><circle cx="384.6" cy="1468.8" r="4.4"/><circle cx="387.0" cy="1470.6" r="4.4"/><circle cx="388.8" cy="1471.8" r="4.4"/><circle cx="391.0" cy="1484.6" r="4.4"/><circle cx="395.1" cy="1494.0" r="4.4"/><circle cx="401.3" cy="1296.4" r="4.4"/><circle cx="399.1" cy="1340.0" r="4.4"/><circle cx="401.6" cy="1707.8" r="4.4"/><circle cx="404.0" cy="1705.7" r="4.4"/><circle cx="406.5" cy="1703.6" r="4.4"/><circle cx="408.9" cy="1701.6" r="4.4"/><circle cx="411.3" cy="1699.3" r="4.4"/><circle cx="413.7" cy="1696.9" r="4.4"/><circle cx="416.2" cy="1694.4" r="4.4"/><circle cx="418.6" cy="1692.7" r="4.4"/><circle cx="421.0" cy="1691.3" r="4.4"/><circle cx="423.5" cy="1689.8" r="4.4"/><circle cx="425.7" cy="1683.6" r="4.4"/><circle cx="428.4" cy="1674.9" r="4.4"/><circle cx="433.2" cy="1645.8" r="4.4"/><circle cx="435.6" cy="1638.5" r="4.4"/><circle cx="438.1" cy="1632.4" r="4.4"/><circle cx="440.5" cy="1623.2" r="4.4"/><circle cx="445.3" cy="1608.3" r="4.4"/><circle cx="447.8" cy="1604.7" r="4.4"/><circle cx="453.8" cy="1600.5" r="4.4"/><circle cx="451.9" cy="1598.1" r="4.4"/><circle cx="450.6" cy="1596.4" r="4.4"/><circle cx="451.9" cy="1580.7" r="4.4"/><circle cx="455.1" cy="1672.7" r="4.4"/><circle cx="457.5" cy="1672.3" r="4.4"/><circle cx="459.9" cy="1671.9" r="4.4"/><circle cx="462.4" cy="1672.3" r="4.4"/><circle cx="464.8" cy="1674.0" r="4.4"/><circle cx="467.2" cy="1675.6" r="4.4"/><circle cx="469.6" cy="1676.6" r="4.4"/><circle cx="472.1" cy="1677.3" r="4.4"/><circle cx="473.6" cy="1677.6" r="4.4"/><circle cx="474.9" cy="1667.3" r="4.4"/><circle cx="476.9" cy="1666.9" r="4.4"/><circle cx="479.4" cy="1666.3" r="4.4"/><circle cx="481.8" cy="1665.8" r="4.4"/><circle cx="484.2" cy="1665.3" r="4.4"/><circle cx="485.8" cy="1664.9" r="4.4"/><circle cx="493.9" cy="1634.7" r="4.4"/><circle cx="496.4" cy="1630.6" r="4.4"/><circle cx="498.8" cy="1623.5" r="4.4"/><circle cx="501.2" cy="1608.6" r="4.4"/><circle cx="502.8" cy="1591.0" r="4.4"/><circle cx="506.1" cy="1570.7" r="4.4"/><circle cx="512.8" cy="1539.0" r="4.4"/><circle cx="544.0" cy="1676.8" r="4.4"/><circle cx="546.7" cy="1662.7" r="4.4"/><circle cx="549.4" cy="1647.3" r="4.4"/><circle cx="552.1" cy="1632.4" r="4.4"/><circle cx="554.0" cy="1620.0" r="4.4"/><circle cx="557.0" cy="1606.4" r="4.4"/><circle cx="558.9" cy="1555.0" r="4.4"/><circle cx="561.0" cy="1503.0" r="4.4"/><circle cx="564.4" cy="1485.2" r="4.4"/><circle cx="566.9" cy="1482.5" r="4.4"/><circle cx="569.2" cy="1480.0" r="4.4"/><circle cx="571.1" cy="1465.9" r="4.4"/><circle cx="574.3" cy="1350.0" r="4.4"/><circle cx="576.5" cy="1298.0" r="4.4"/><circle cx="577.8" cy="1697.9" r="4.4"/><circle cx="581.4" cy="1687.9" r="4.4"/><circle cx="583.9" cy="1686.5" r="4.4"/><circle cx="586.3" cy="1685.0" r="4.4"/><circle cx="588.7" cy="1683.6" r="4.4"/><circle cx="591.2" cy="1683.2" r="4.4"/><circle cx="593.6" cy="1682.7" r="4.4"/><circle cx="596.0" cy="1682.3" r="4.4"/><circle cx="598.5" cy="1681.9" r="4.4"/><circle cx="603.6" cy="1672.2" r="4.4"/><circle cx="615.7" cy="1646.5" r="4.4"/><circle cx="617.9" cy="1642.2" r="4.4"/><circle cx="620.3" cy="1636.4" r="4.4"/><circle cx="625.2" cy="1606.4" r="4.4"/><circle cx="627.6" cy="1574.3" r="4.4"/><circle cx="629.8" cy="1570.7" r="4.4"/><circle cx="660.4" cy="1676.8" r="4.4"/><circle cx="664.1" cy="1667.6" r="4.4"/><circle cx="666.5" cy="1662.8" r="4.4"/><circle cx="668.9" cy="1657.9" r="4.4"/><circle cx="671.3" cy="1653.3" r="4.4"/><circle cx="673.2" cy="1616.7" r="4.4"/><circle cx="675.9" cy="1590.4" r="4.4"/><circle cx="678.0" cy="1516.0" r="4.4"/><circle cx="681.1" cy="1486.1" r="4.4"/><circle cx="683.5" cy="1491.0" r="4.4"/><circle cx="686.0" cy="1495.8" r="4.4"/><circle cx="687.5" cy="1498.9" r="4.4"/><circle cx="690.2" cy="1360.8" r="4.4"/><circle cx="692.9" cy="1306.7" r="4.4"/><circle cx="708.1" cy="1310.7" r="4.4"/><circle cx="710.3" cy="1312.1" r="4.4"/><circle cx="712.7" cy="1313.7" r="4.4"/><circle cx="715.1" cy="1313.1" r="4.4"/><circle cx="717.5" cy="1311.3" r="4.4"/><circle cx="719.5" cy="1304.5" r="4.4"/><circle cx="700.5" cy="1699.7" r="4.4"/><circle cx="703.0" cy="1701.3" r="4.4"/><circle cx="705.4" cy="1702.9" r="4.4"/><circle cx="707.8" cy="1704.5" r="4.4"/><circle cx="722.2" cy="1703.4" r="4.4"/><circle cx="724.4" cy="1679.0" r="4.4"/><circle cx="729.2" cy="1615.9" r="4.4"/><circle cx="732.0" cy="1590.4" r="4.4"/><circle cx="734.4" cy="1566.1" r="4.4"/><circle cx="739.4" cy="1497.1" r="4.4"/><circle cx="741.9" cy="1489.8" r="4.4"/><circle cx="746.0" cy="1480.0" r="4.4"/><circle cx="751.4" cy="1306.7" r="4.4"/><circle cx="754.0" cy="1696.9" r="4.4"/><circle cx="756.4" cy="1692.0" r="4.4"/><circle cx="758.9" cy="1687.7" r="4.4"/><circle cx="761.3" cy="1684.9" r="4.4"/><circle cx="766.3" cy="1698.8" r="4.4"/><circle cx="771.8" cy="1350.0" r="4.4"/><circle cx="773.1" cy="1362.2" r="4.4"/><circle cx="775.3" cy="1373.8" r="4.4"/><circle cx="778.0" cy="1418.5" r="4.4"/><circle cx="783.1" cy="1440.2" r="4.4"/><circle cx="808.3" cy="1469.1" r="4.4"/><circle cx="809.9" cy="1464.8" r="4.4"/><circle cx="812.3" cy="1458.1" r="4.4"/><circle cx="814.8" cy="1452.4" r="4.4"/><circle cx="817.2" cy="1448.2" r="4.4"/><circle cx="819.6" cy="1444.3" r="4.4"/><circle cx="822.1" cy="1441.8" r="4.4"/><circle cx="824.5" cy="1439.4" r="4.4"/><circle cx="826.9" cy="1415.5" r="4.4"/><circle cx="829.3" cy="1410.3" r="4.4"/><circle cx="831.3" cy="1388.7" r="4.4"/><circle cx="834.6" cy="1340.0" r="4.4"/><circle cx="836.7" cy="1296.4" r="4.4"/><circle cx="839.5" cy="1696.6" r="4.4"/><circle cx="841.3" cy="1688.5" r="4.4"/><circle cx="843.5" cy="1679.0" r="4.4"/><circle cx="846.2" cy="1641.9" r="4.4"/><circle cx="848.4" cy="1603.2" r="4.4"/><circle cx="851.6" cy="1572.8" r="4.4"/><circle cx="853.0" cy="1547.7" r="4.4"/><circle cx="859.2" cy="1520.0" r="4.4"/><circle cx="865.2" cy="1628.9" r="4.4"/><circle cx="868.2" cy="1660.5" r="4.4"/><circle cx="870.7" cy="1663.7" r="4.4"/><circle cx="873.1" cy="1664.9" r="4.4"/><circle cx="875.5" cy="1663.9" r="4.4"/><circle cx="878.0" cy="1662.8" r="4.4"/><circle cx="880.4" cy="1661.7" r="4.4"/><circle cx="882.8" cy="1660.6" r="4.4"/><circle cx="885.2" cy="1659.6" r="4.4"/><circle cx="887.7" cy="1658.7" r="4.4"/><circle cx="890.1" cy="1657.8" r="4.4"/><circle cx="892.5" cy="1656.9" r="4.4"/><circle cx="895.0" cy="1656.0" r="4.4"/><circle cx="897.1" cy="1643.8" r="4.4"/><circle cx="899.8" cy="1632.4" r="4.4"/><circle cx="914.4" cy="1587.8" r="4.4"/><circle cx="916.8" cy="1585.6" r="4.4"/><circle cx="919.3" cy="1583.4" r="4.4"/><circle cx="915.3" cy="1578.8" r="4.4"/><circle cx="916.8" cy="1576.4" r="4.4"/><circle cx="918.8" cy="1573.4" r="4.4"/><circle cx="924.2" cy="1641.1" r="4.4"/><circle cx="924.7" cy="1650.6" r="4.4"/><circle cx="926.6" cy="1651.3" r="4.4"/><circle cx="929.0" cy="1652.4" r="4.4"/><circle cx="931.4" cy="1653.4" r="4.4"/><circle cx="933.9" cy="1654.5" r="4.4"/><circle cx="936.3" cy="1657.5" r="4.4"/><circle cx="938.7" cy="1660.9" r="4.4"/><circle cx="941.1" cy="1664.0" r="4.4"/><circle cx="943.6" cy="1662.8" r="4.4"/><circle cx="946.0" cy="1661.6" r="4.4"/><circle cx="948.4" cy="1660.4" r="4.4"/><circle cx="950.9" cy="1655.7" r="4.4"/><circle cx="953.2" cy="1642.4" r="4.4"/><circle cx="955.3" cy="1620.2" r="4.4"/><circle cx="958.2" cy="1605.7" r="4.4"/><circle cx="960.6" cy="1601.7" r="4.4"/><circle cx="968.1" cy="1572.0" r="4.4"/><circle cx="970.3" cy="1564.6" r="4.4"/><circle cx="972.7" cy="1558.1" r="4.4"/><circle cx="975.2" cy="1556.4" r="4.4"/><circle cx="977.6" cy="1554.8" r="4.4"/><circle cx="1001.9" cy="1665.8" r="4.4"/><circle cx="1004.3" cy="1664.1" r="4.4"/><circle cx="1006.8" cy="1662.4" r="4.4"/><circle cx="1009.2" cy="1660.6" r="4.4"/><circle cx="1014.1" cy="1614.0" r="4.4"/><circle cx="1016.8" cy="1592.9" r="4.4"/><circle cx="1019.5" cy="1576.1" r="4.4"/><circle cx="1021.4" cy="1567.2" r="4.4"/><circle cx="1031.7" cy="1540.9" r="4.4"/><circle cx="1033.5" cy="1538.7" r="4.4"/><circle cx="1035.9" cy="1535.8" r="4.4"/><circle cx="1038.4" cy="1532.9" r="4.4"/><circle cx="1039.8" cy="1540.9" r="4.4"/><circle cx="1043.4" cy="1611.8" r="4.4"/><circle cx="1045.2" cy="1639.7" r="4.4"/><circle cx="1050.1" cy="1683.6" r="4.4"/><circle cx="1053.4" cy="1706.1" r="4.4"/><circle cx="1055.4" cy="1306.6" r="4.4"/><circle cx="1057.8" cy="1311.5" r="4.4"/><circle cx="1060.2" cy="1313.1" r="4.4"/><circle cx="1062.7" cy="1312.7" r="4.4"/><circle cx="1065.1" cy="1312.2" r="4.4"/><circle cx="1067.5" cy="1304.0" r="4.4"/><circle cx="1070.4" cy="1706.9" r="4.4"/><circle cx="1072.4" cy="1693.7" r="4.4"/><circle cx="1074.8" cy="1687.6" r="4.4"/><circle cx="1076.9" cy="1678.4" r="4.4"/><circle cx="1079.1" cy="1666.3" r="4.4"/><circle cx="1089.4" cy="1632.7" r="4.4"/><circle cx="1091.8" cy="1615.9" r="4.4"/><circle cx="1094.3" cy="1599.8" r="4.4"/><circle cx="1096.7" cy="1605.9" r="4.4"/><circle cx="1100.8" cy="1668.2" r="4.4"/><circle cx="1104.0" cy="1677.3" r="4.4"/><circle cx="1106.4" cy="1682.2" r="4.4"/><circle cx="1108.8" cy="1687.0" r="4.4"/><circle cx="1111.3" cy="1689.1" r="4.4"/><circle cx="1113.7" cy="1691.1" r="4.4"/><circle cx="1116.1" cy="1693.2" r="4.4"/><circle cx="1117.0" cy="1676.3" r="4.4"/><circle cx="1118.6" cy="1675.3" r="4.4"/><circle cx="1121.0" cy="1673.8" r="4.4"/><circle cx="1123.4" cy="1672.3" r="4.4"/><circle cx="1125.9" cy="1670.7" r="4.4"/><circle cx="1127.8" cy="1669.5" r="4.4"/><circle cx="1130.5" cy="1660.0" r="4.4"/><circle cx="1133.3" cy="1651.9" r="4.4"/><circle cx="1135.1" cy="1645.1" r="4.4"/><circle cx="1142.7" cy="1616.7" r="4.4"/><circle cx="1145.4" cy="1608.6" r="4.4"/><circle cx="1147.7" cy="1604.0" r="4.4"/><circle cx="1150.2" cy="1600.8" r="4.4"/><circle cx="1152.6" cy="1602.0" r="4.4"/><circle cx="1154.9" cy="1603.2" r="4.4"/><circle cx="1152.2" cy="1585.6" r="4.4"/><circle cx="1155.0" cy="1649.3" r="4.4"/><circle cx="1157.5" cy="1651.1" r="4.4"/><circle cx="1159.9" cy="1652.9" r="4.4"/><circle cx="1162.3" cy="1654.8" r="4.4"/><circle cx="1164.7" cy="1656.6" r="4.4"/><circle cx="1167.2" cy="1657.4" r="4.4"/><circle cx="1169.6" cy="1657.6" r="4.4"/><circle cx="1172.0" cy="1657.7" r="4.4"/><circle cx="1174.5" cy="1657.8" r="4.4"/><circle cx="1176.9" cy="1658.0" r="4.4"/><circle cx="1179.3" cy="1658.1" r="4.4"/><circle cx="1181.8" cy="1656.7" r="4.4"/><circle cx="1184.2" cy="1655.2" r="4.4"/><circle cx="1186.6" cy="1653.7" r="4.4"/><circle cx="1189.3" cy="1645.1" r="4.4"/><circle cx="1196.3" cy="1608.6" r="4.4"/><circle cx="1198.2" cy="1600.5" r="4.4"/><circle cx="1200.9" cy="1585.6" r="4.4"/><circle cx="1203.6" cy="1572.9" r="4.4"/><circle cx="1206.1" cy="1569.5" r="4.4"/><circle cx="1208.5" cy="1570.0" r="4.4"/><circle cx="1210.9" cy="1573.7" r="4.4"/><circle cx="1213.1" cy="1583.7" r="4.4"/><circle cx="1218.2" cy="1655.9" r="4.4"/><circle cx="1220.6" cy="1658.9" r="4.4"/><circle cx="1223.1" cy="1661.4" r="4.4"/><circle cx="1225.5" cy="1661.7" r="4.4"/><circle cx="1227.9" cy="1662.1" r="4.4"/><circle cx="1230.4" cy="1662.4" r="4.4"/><circle cx="1232.8" cy="1662.7" r="4.4"/><circle cx="1235.2" cy="1662.3" r="4.4"/><circle cx="1237.7" cy="1661.7" r="4.4"/><circle cx="1240.1" cy="1661.1" r="4.4"/><circle cx="1242.5" cy="1660.5" r="4.4"/><circle cx="1244.3" cy="1660.0" r="4.4"/><circle cx="1279.2" cy="1302.6" r="4.4"/><circle cx="1276.3" cy="1393.9" r="4.4"/><circle cx="1262.2" cy="1532.0" r="4.4"/><circle cx="1264.9" cy="1505.7" r="4.4"/><circle cx="1266.8" cy="1501.8" r="4.4"/><circle cx="1269.3" cy="1497.1" r="4.4"/><circle cx="1271.7" cy="1493.0" r="4.4"/><circle cx="1259.5" cy="1576.1" r="4.4"/><circle cx="1252.2" cy="1619.0" r="4.4"/><circle cx="1254.7" cy="1614.1" r="4.4"/><circle cx="1257.1" cy="1608.0" r="4.4"/><circle cx="1279.8" cy="1702.0" r="4.4"/><circle cx="1281.4" cy="1701.2" r="4.4"/><circle cx="1283.8" cy="1700.0" r="4.4"/><circle cx="1286.3" cy="1698.8" r="4.4"/><circle cx="1288.7" cy="1697.6" r="4.4"/><circle cx="1291.1" cy="1695.9" r="4.4"/><circle cx="1293.6" cy="1692.5" r="4.4"/><circle cx="1296.0" cy="1689.1" r="4.4"/><circle cx="1298.4" cy="1685.7" r="4.4"/><circle cx="1300.8" cy="1682.5" r="4.4"/><circle cx="1303.3" cy="1669.5" r="4.4"/><circle cx="1313.6" cy="1634.3" r="4.4"/><circle cx="1315.4" cy="1630.6" r="4.4"/><circle cx="1317.9" cy="1625.7" r="4.4"/><circle cx="1320.3" cy="1620.7" r="4.4"/><circle cx="1322.6" cy="1612.6" r="4.4"/><circle cx="1325.3" cy="1599.9" r="4.4"/><circle cx="1327.7" cy="1584.2" r="4.4"/><circle cx="1330.0" cy="1578.5" r="4.4"/><circle cx="1332.4" cy="1659.8" r="4.4"/><circle cx="1334.9" cy="1663.1" r="4.4"/><circle cx="1337.3" cy="1665.3" r="4.4"/><circle cx="1339.7" cy="1664.9" r="4.4"/><circle cx="1342.2" cy="1664.5" r="4.4"/><circle cx="1344.6" cy="1664.1" r="4.4"/><circle cx="1347.0" cy="1665.0" r="4.4"/><circle cx="1349.5" cy="1666.0" r="4.4"/><circle cx="1351.9" cy="1666.7" r="4.4"/><circle cx="1354.3" cy="1665.6" r="4.4"/><circle cx="1356.7" cy="1664.6" r="4.4"/><circle cx="1359.2" cy="1663.5" r="4.4"/><circle cx="1361.0" cy="1662.7" r="4.4"/><circle cx="1364.3" cy="1653.3" r="4.4"/><circle cx="1367.0" cy="1643.8" r="4.4"/><circle cx="1368.9" cy="1639.6" r="4.4"/><circle cx="1371.3" cy="1634.3" r="4.4"/><circle cx="1373.2" cy="1623.5" r="4.4"/><circle cx="1378.6" cy="1592.3" r="4.4"/><circle cx="1381.1" cy="1586.7" r="4.4"/><circle cx="1383.5" cy="1582.1" r="4.4"/><circle cx="1385.9" cy="1579.6" r="4.4"/><circle cx="1388.1" cy="1577.4" r="4.4"/><circle cx="1390.3" cy="1641.9" r="4.4"/><circle cx="1393.5" cy="1654.6" r="4.4"/><circle cx="1395.6" cy="1656.7" r="4.4"/><circle cx="1398.1" cy="1659.2" r="4.4"/><circle cx="1400.5" cy="1661.6" r="4.4"/><circle cx="1402.9" cy="1663.5" r="4.4"/><circle cx="1405.4" cy="1665.1" r="4.4"/><circle cx="1407.8" cy="1666.6" r="4.4"/><circle cx="1410.2" cy="1668.1" r="4.4"/><circle cx="1412.6" cy="1669.5" r="4.4"/><circle cx="1415.1" cy="1669.0" r="4.4"/><circle cx="1417.5" cy="1668.6" r="4.4"/><circle cx="1419.9" cy="1668.2" r="4.4"/><circle cx="1421.9" cy="1651.9" r="4.4"/><circle cx="1425.5" cy="1642.4" r="4.4"/><circle cx="1427.4" cy="1630.8" r="4.4"/><circle cx="1429.3" cy="1611.3" r="4.4"/><circle cx="1434.1" cy="1580.2" r="4.4"/><circle cx="1437.0" cy="1563.7" r="4.4"/><circle cx="1439.4" cy="1558.8" r="4.4"/><circle cx="1441.8" cy="1556.0" r="4.4"/><circle cx="1444.2" cy="1556.6" r="4.4"/><circle cx="1446.3" cy="1557.1" r="4.4"/><circle cx="1449.6" cy="1620.2" r="4.4"/><circle cx="1451.5" cy="1637.9" r="4.4"/><circle cx="1454.0" cy="1641.4" r="4.4"/><circle cx="1456.4" cy="1644.8" r="4.4"/><circle cx="1458.8" cy="1648.1" r="4.4"/><circle cx="1461.3" cy="1649.6" r="4.4"/><circle cx="1463.7" cy="1651.1" r="4.4"/><circle cx="1466.1" cy="1652.6" r="4.4"/><circle cx="1468.5" cy="1654.1" r="4.4"/><circle cx="1471.0" cy="1654.9" r="4.4"/><circle cx="1473.4" cy="1655.3" r="4.4"/><circle cx="1475.8" cy="1655.7" r="4.4"/><circle cx="1478.3" cy="1654.9" r="4.4"/><circle cx="1480.7" cy="1651.6" r="4.4"/><circle cx="1483.1" cy="1648.4" r="4.4"/><circle cx="1485.6" cy="1645.2" r="4.4"/><circle cx="1488.0" cy="1640.9" r="4.4"/><circle cx="1490.4" cy="1636.7" r="4.4"/><circle cx="1492.9" cy="1631.0" r="4.4"/><circle cx="1501.8" cy="1605.9" r="4.4"/><circle cx="1506.7" cy="1652.7" r="4.4"/><circle cx="1510.0" cy="1662.7" r="4.4"/><circle cx="1512.3" cy="1668.0" r="4.4"/><circle cx="1514.7" cy="1673.5" r="4.4"/><circle cx="1517.2" cy="1675.8" r="4.4"/><circle cx="1519.6" cy="1677.0" r="4.4"/><circle cx="1522.0" cy="1678.3" r="4.4"/><circle cx="1524.4" cy="1678.0" r="4.4"/><circle cx="1526.9" cy="1675.6" r="4.4"/><circle cx="1529.3" cy="1673.2" r="4.4"/><circle cx="1531.7" cy="1670.6" r="4.4"/><circle cx="1534.2" cy="1666.4" r="4.4"/><circle cx="1536.6" cy="1662.1" r="4.4"/><circle cx="1539.7" cy="1649.2" r="4.4"/><circle cx="1540.5" cy="1637.0" r="4.4"/><circle cx="1546.5" cy="1609.9" r="4.4"/><circle cx="1548.8" cy="1604.7" r="4.4"/><circle cx="1551.2" cy="1599.2" r="4.4"/><circle cx="1553.6" cy="1594.4" r="4.4"/><circle cx="1556.0" cy="1589.5" r="4.4"/><circle cx="1558.5" cy="1585.9" r="4.4"/><circle cx="1560.9" cy="1582.3" r="4.4"/><circle cx="1592.5" cy="1670.9" r="4.4"/><circle cx="1595.2" cy="1658.7" r="4.4"/><circle cx="1598.0" cy="1647.8" r="4.4"/><circle cx="1599.8" cy="1644.2" r="4.4"/><circle cx="1602.2" cy="1639.3" r="4.4"/><circle cx="1604.7" cy="1634.5" r="4.4"/><circle cx="1607.4" cy="1620.2" r="4.4"/><circle cx="1609.6" cy="1596.9" r="4.4"/><circle cx="1614.2" cy="1546.8" r="4.4"/><circle cx="1616.9" cy="1526.0" r="4.4"/><circle cx="1619.6" cy="1509.7" r="4.4"/><circle cx="1621.5" cy="1502.4" r="4.4"/><circle cx="1624.2" cy="1398.7" r="4.4"/><circle cx="1634.5" cy="1297.2" r="4.4"/><circle cx="1636.2" cy="1298.6" r="4.4"/><circle cx="1638.7" cy="1300.7" r="4.4"/><circle cx="1641.1" cy="1302.7" r="4.4"/><circle cx="1643.5" cy="1303.4" r="4.4"/><circle cx="1646.0" cy="1301.9" r="4.4"/><circle cx="1648.4" cy="1300.4" r="4.4"/><circle cx="1650.8" cy="1298.8" r="4.4"/><circle cx="1653.3" cy="1297.3" r="4.4"/><circle cx="1644.0" cy="1308.8" r="4.4"/><circle cx="1662.9" cy="1678.4" r="4.4"/><circle cx="1665.1" cy="1606.4" r="4.4"/><circle cx="1667.8" cy="1576.1" r="4.4"/><circle cx="1670.3" cy="1528.2" r="4.4"/><circle cx="1673.2" cy="1503.0" r="4.4"/><circle cx="1675.1" cy="1485.4" r="4.4"/><circle cx="1683.0" cy="1312.1" r="4.4"/><circle cx="1684.9" cy="1308.2" r="4.4"/><circle cx="1687.3" cy="1303.7" r="4.4"/><circle cx="1689.7" cy="1307.6" r="4.4"/><circle cx="1692.1" cy="1311.5" r="4.4"/><circle cx="1694.6" cy="1312.4" r="4.4"/><circle cx="1697.0" cy="1312.8" r="4.4"/><circle cx="1699.4" cy="1313.2" r="4.4"/><circle cx="1704.7" cy="1297.2" r="4.4"/><circle cx="1682.2" cy="1368.9" r="4.4"/><circle cx="1709.3" cy="1707.4" r="4.4"/><circle cx="1710.9" cy="1698.5" r="4.4"/><circle cx="1714.2" cy="1677.6" r="4.4"/><circle cx="1716.1" cy="1652.5" r="4.4"/><circle cx="1719.6" cy="1606.4" r="4.4"/><circle cx="1724.2" cy="1540.9" r="4.4"/><circle cx="1726.3" cy="1516.0" r="4.4"/><circle cx="1741.2" cy="1443.9" r="4.4"/><circle cx="1743.1" cy="1379.2" r="4.4"/><circle cx="1745.6" cy="1337.7" r="4.4"/><circle cx="1748.0" cy="1333.7" r="4.4"/><circle cx="1750.5" cy="1332.6" r="4.4"/><circle cx="1752.9" cy="1334.8" r="4.4"/><circle cx="1755.3" cy="1337.1" r="4.4"/><circle cx="1757.8" cy="1337.1" r="4.4"/><circle cx="1760.2" cy="1336.2" r="4.4"/><circle cx="1762.6" cy="1335.2" r="4.4"/><circle cx="1764.3" cy="1334.6" r="4.4"/><circle cx="1760.2" cy="1348.6" r="4.4"/><circle cx="1767.0" cy="1318.8" r="4.4"/><circle cx="1770.2" cy="1309.4" r="4.4"/><circle cx="1772.4" cy="1297.2" r="4.4"/><circle cx="1800.8" cy="1696.6" r="4.4"/><circle cx="1803.9" cy="1686.9" r="4.4"/><circle cx="1806.4" cy="1685.9" r="4.4"/><circle cx="1808.8" cy="1684.8" r="4.4"/><circle cx="1811.2" cy="1683.8" r="4.4"/><circle cx="1813.7" cy="1682.0" r="4.4"/><circle cx="1816.1" cy="1678.1" r="4.4"/><circle cx="1818.5" cy="1674.2" r="4.4"/><circle cx="1821.0" cy="1670.2" r="4.4"/><circle cx="1823.4" cy="1666.2" r="4.4"/><circle cx="1830.6" cy="1611.3" r="4.4"/><circle cx="1833.3" cy="1593.7" r="4.4"/><circle cx="1835.5" cy="1584.8" r="4.4"/><circle cx="1837.4" cy="1573.4" r="4.4"/><circle cx="1840.4" cy="1561.9" r="4.4"/><circle cx="1842.8" cy="1557.0" r="4.4"/><circle cx="1845.3" cy="1552.2" r="4.4"/><circle cx="1847.7" cy="1552.7" r="4.4"/><circle cx="1850.1" cy="1553.7" r="4.4"/><circle cx="1852.6" cy="1554.7" r="4.4"/><circle cx="1855.0" cy="1555.8" r="4.4"/><circle cx="1860.9" cy="1612.6" r="4.4"/><circle cx="1862.3" cy="1623.0" r="4.4"/><circle cx="1864.7" cy="1626.9" r="4.4"/><circle cx="1867.1" cy="1630.8" r="4.4"/><circle cx="1869.6" cy="1633.8" r="4.4"/><circle cx="1872.0" cy="1635.9" r="4.4"/><circle cx="1874.4" cy="1637.9" r="4.4"/><circle cx="1876.9" cy="1639.7" r="4.4"/><circle cx="1879.3" cy="1639.3" r="4.4"/><circle cx="1881.7" cy="1638.9" r="4.4"/><circle cx="1884.1" cy="1638.5" r="4.4"/><circle cx="1886.6" cy="1616.7" r="4.4"/><circle cx="1889.4" cy="1596.4" r="4.4"/><circle cx="1891.5" cy="1585.6" r="4.4"/><circle cx="1893.9" cy="1581.7" r="4.4"/><circle cx="1895.6" cy="1578.8" r="4.4"/><circle cx="1908.5" cy="1559.3" r="4.4"/><circle cx="1910.9" cy="1562.4" r="4.4"/><circle cx="1913.2" cy="1565.3" r="4.4"/><circle cx="1918.6" cy="1619.4" r="4.4"/><circle cx="1921.3" cy="1628.9" r="4.4"/><circle cx="1923.0" cy="1633.7" r="4.4"/><circle cx="1925.5" cy="1640.3" r="4.4"/><circle cx="1927.9" cy="1646.1" r="4.4"/><circle cx="1930.3" cy="1651.0" r="4.4"/><circle cx="1932.8" cy="1655.9" r="4.4"/><circle cx="1935.2" cy="1657.6" r="4.4"/><circle cx="1937.6" cy="1658.0" r="4.4"/><circle cx="1940.0" cy="1658.4" r="4.4"/><circle cx="1941.6" cy="1658.7" r="4.4"/><circle cx="1947.0" cy="1614.0" r="4.4"/><circle cx="1950.3" cy="1601.8" r="4.4"/><circle cx="1952.2" cy="1596.5" r="4.4"/><circle cx="1954.6" cy="1589.7" r="4.4"/><circle cx="1957.1" cy="1581.3" r="4.4"/><circle cx="1959.5" cy="1572.6" r="4.4"/><circle cx="1961.9" cy="1566.2" r="4.4"/><circle cx="1964.4" cy="1562.1" r="4.4"/><circle cx="1966.8" cy="1561.0" r="4.4"/><circle cx="1969.2" cy="1560.0" r="4.4"/><circle cx="1971.6" cy="1559.0" r="4.4"/><circle cx="1976.5" cy="1654.5" r="4.4"/><circle cx="1978.9" cy="1660.6" r="4.4"/><circle cx="1981.4" cy="1666.4" r="4.4"/><circle cx="1983.8" cy="1671.3" r="4.4"/><circle cx="1986.2" cy="1676.1" r="4.4"/><circle cx="1988.7" cy="1681.0" r="4.4"/><circle cx="1991.1" cy="1680.9" r="4.4"/><circle cx="1993.5" cy="1679.9" r="4.4"/><circle cx="1995.9" cy="1678.8" r="4.4"/><circle cx="1998.4" cy="1676.4" r="4.4"/><circle cx="2000.8" cy="1674.0" r="4.4"/><circle cx="2002.5" cy="1672.2" r="4.4"/><circle cx="2003.9" cy="1654.6" r="4.4"/><circle cx="2008.0" cy="1646.5" r="4.4"/><circle cx="2010.7" cy="1639.7" r="4.4"/><circle cx="2013.4" cy="1624.8" r="4.4"/><circle cx="2019.3" cy="1580.2" r="4.4"/></g>
<polyline points="155.5,1460.5 197.3,1460.5 255.6,1380.3 310.5,1348.6 372.3,1456.4 430.6,1457.5 488.9,1424.5 547.3,1449.6 605.6,1416.9 663.9,1402.8 722.3,1439.9 780.6,1304.5 838.9,1317.0 897.3,1426.3 955.6,1423.9 1013.9,1485.4 1072.2,1517.3 1130.6,1414.4 1188.9,1380.3 1247.2,1398.7 1305.6,1476.7 1363.9,1406.3 1422.2,1394.7 1480.6,1370.3 1538.9,1410.1 1597.2,1439.9 1655.5,1471.3 1713.9,1474.5 1772.2,1515.7 1830.5,1447.5 1888.9,1378.4 1947.2,1371.1 1991.7,1390.6 1994.4,1398.2 2020.5,1398.2" fill="none" stroke="#f8f8f8" stroke-width="17" stroke-linejoin="round"/>
<polyline points="155.5,1639.7 197.3,1639.7 255.6,1625.6 312.5,1497.0 372.3,1661.4 430.6,1659.5 488.9,1646.5 547.3,1700.9 605.6,1655.7 663.9,1690.4 722.3,1650.6 780.6,1612.4 838.9,1658.4 897.3,1622.1 955.6,1577.2 1013.9,1647.8 1072.2,1653.8 1130.6,1632.7 1188.9,1623.5 1247.2,1634.0 1305.6,1651.1 1363.9,1608.6 1422.2,1593.7 1480.6,1618.6 1538.9,1612.6 1597.2,1697.1 1655.5,1697.1 1713.9,1664.4 1772.2,1690.1 1830.5,1646.5 1888.9,1551.7 1947.2,1634.3 1991.7,1607.2 1994.4,1599.1 2020.5,1599.1" fill="none" stroke="#f8f8f8" stroke-width="17" stroke-linejoin="round"/>
<polyline points="155.5,1544.4 197.3,1544.4 255.6,1493.0 309.5,1429.1 372.3,1563.9 430.6,1555.2 488.9,1537.4 547.3,1584.8 605.6,1555.0 663.9,1565.3 722.3,1565.3 780.6,1450.7 838.9,1532.8 897.3,1526.8 955.6,1515.2 1013.9,1546.3 1072.2,1590.2 1130.6,1535.5 1188.9,1510.6 1247.2,1535.5 1305.6,1561.2 1363.9,1523.3 1422.2,1513.8 1480.6,1485.4 1538.9,1535.5 1597.2,1552.3 1655.5,1592.9 1713.9,1570.7 1772.2,1583.7 1830.5,1527.4 1888.9,1477.8 1947.2,1503.0 2020.5,1501.1" fill="none" stroke="#f8f8f8" stroke-width="16.5" stroke-linejoin="round" stroke-dasharray="13.1 0.9" stroke-dashoffset="5.4"/>
<line x1="193.5" y1="1709.6" x2="2020.5" y2="1709.6" stroke="#000" stroke-width="2.4" stroke-dasharray="7.8 6.2" stroke-dashoffset="-3"/>
<line x1="193.5" y1="1650.5" x2="2020.5" y2="1650.5" stroke="#000" stroke-width="2.4" stroke-dasharray="7.8 6.2" stroke-dashoffset="-3"/>
<line x1="193.5" y1="1591.4" x2="2020.5" y2="1591.4" stroke="#000" stroke-width="2.4" stroke-dasharray="7.8 6.2" stroke-dashoffset="-3"/>
<line x1="193.5" y1="1532.3" x2="2020.5" y2="1532.3" stroke="#000" stroke-width="2.4" stroke-dasharray="7.8 6.2" stroke-dashoffset="-3"/>
<line x1="193.5" y1="1473.1" x2="2020.5" y2="1473.1" stroke="#000" stroke-width="2.4" stroke-dasharray="7.8 6.2" stroke-dashoffset="-3"/>
<line x1="193.5" y1="1414.0" x2="2020.5" y2="1414.0" stroke="#000" stroke-width="2.4" stroke-dasharray="7.8 6.2" stroke-dashoffset="-3"/>
<line x1="193.5" y1="1354.9" x2="2020.5" y2="1354.9" stroke="#000" stroke-width="2.4" stroke-dasharray="7.8 6.2" stroke-dashoffset="-3"/>
<polyline points="155.5,1460.5 197.3,1460.5 255.6,1380.3 310.5,1348.6 372.3,1456.4 430.6,1457.5 488.9,1424.5 547.3,1449.6 605.6,1416.9 663.9,1402.8 722.3,1439.9 780.6,1304.5 838.9,1317.0 897.3,1426.3 955.6,1423.9 1013.9,1485.4 1072.2,1517.3 1130.6,1414.4 1188.9,1380.3 1247.2,1398.7 1305.6,1476.7 1363.9,1406.3 1422.2,1394.7 1480.6,1370.3 1538.9,1410.1 1597.2,1439.9 1655.5,1471.3 1713.9,1474.5 1772.2,1515.7 1830.5,1447.5 1888.9,1378.4 1947.2,1371.1 1991.7,1390.6 1994.4,1398.2 2020.5,1398.2" fill="none" stroke="#3c7070" stroke-width="7.5" stroke-linejoin="miter"/>
<polyline points="155.5,1639.7 197.3,1639.7 255.6,1625.6 312.5,1497.0 372.3,1661.4 430.6,1659.5 488.9,1646.5 547.3,1700.9 605.6,1655.7 663.9,1690.4 722.3,1650.6 780.6,1612.4 838.9,1658.4 897.3,1622.1 955.6,1577.2 1013.9,1647.8 1072.2,1653.8 1130.6,1632.7 1188.9,1623.5 1247.2,1634.0 1305.6,1651.1 1363.9,1608.6 1422.2,1593.7 1480.6,1618.6 1538.9,1612.6 1597.2,1697.1 1655.5,1697.1 1713.9,1664.4 1772.2,1690.1 1830.5,1646.5 1888.9,1551.7 1947.2,1634.3 1991.7,1607.2 1994.4,1599.1 2020.5,1599.1" fill="none" stroke="#3c7070" stroke-width="7.5" stroke-linejoin="miter"/>
<polyline points="155.5,1544.4 197.3,1544.4 255.6,1493.0 309.5,1429.1 372.3,1563.9 430.6,1555.2 488.9,1537.4 547.3,1584.8 605.6,1555.0 663.9,1565.3 722.3,1565.3 780.6,1450.7 838.9,1532.8 897.3,1526.8 955.6,1515.2 1013.9,1546.3 1072.2,1590.2 1130.6,1535.5 1188.9,1510.6 1247.2,1535.5 1305.6,1561.2 1363.9,1523.3 1422.2,1513.8 1480.6,1485.4 1538.9,1535.5 1597.2,1552.3 1655.5,1592.9 1713.9,1570.7 1772.2,1583.7 1830.5,1527.4 1888.9,1477.8 1947.2,1503.0 2020.5,1501.1" fill="none" stroke="#3c7070" stroke-width="7.5" stroke-dasharray="7.7 6.3" stroke-dashoffset="2.7"/>
<line x1="155.5" y1="1295.8" x2="2020.5" y2="1295.8" stroke="#000" stroke-width="2.6"/>
<line x1="202.3" y1="1295.8" x2="202.3" y2="1300.3" stroke="#000" stroke-width="3"/>
<line x1="260.6" y1="1295.8" x2="260.6" y2="1304.3" stroke="#000" stroke-width="3"/>
<line x1="319.0" y1="1295.8" x2="319.0" y2="1300.3" stroke="#000" stroke-width="3"/>
<line x1="377.3" y1="1295.8" x2="377.3" y2="1304.3" stroke="#000" stroke-width="3"/>
<line x1="435.6" y1="1295.8" x2="435.6" y2="1300.3" stroke="#000" stroke-width="3"/>
<line x1="493.9" y1="1295.8" x2="493.9" y2="1304.3" stroke="#000" stroke-width="3"/>
<line x1="552.3" y1="1295.8" x2="552.3" y2="1300.3" stroke="#000" stroke-width="3"/>
<line x1="610.6" y1="1295.8" x2="610.6" y2="1304.3" stroke="#000" stroke-width="3"/>
<line x1="668.9" y1="1295.8" x2="668.9" y2="1300.3" stroke="#000" stroke-width="3"/>
<line x1="727.3" y1="1295.8" x2="727.3" y2="1304.3" stroke="#000" stroke-width="3"/>
<line x1="785.6" y1="1295.8" x2="785.6" y2="1300.3" stroke="#000" stroke-width="3"/>
<line x1="843.9" y1="1295.8" x2="843.9" y2="1304.3" stroke="#000" stroke-width="3"/>
<line x1="902.3" y1="1295.8" x2="902.3" y2="1300.3" stroke="#000" stroke-width="3"/>
<line x1="960.6" y1="1295.8" x2="960.6" y2="1304.3" stroke="#000" stroke-width="3"/>
<line x1="1018.9" y1="1295.8" x2="1018.9" y2="1300.3" stroke="#000" stroke-width="3"/>
<line x1="1077.2" y1="1295.8" x2="1077.2" y2="1304.3" stroke="#000" stroke-width="3"/>
<line x1="1135.6" y1="1295.8" x2="1135.6" y2="1300.3" stroke="#000" stroke-width="3"/>
<line x1="1193.9" y1="1295.8" x2="1193.9" y2="1304.3" stroke="#000" stroke-width="3"/>
<line x1="1252.2" y1="1295.8" x2="1252.2" y2="1300.3" stroke="#000" stroke-width="3"/>
<line x1="1310.6" y1="1295.8" x2="1310.6" y2="1304.3" stroke="#000" stroke-width="3"/>
<line x1="1368.9" y1="1295.8" x2="1368.9" y2="1300.3" stroke="#000" stroke-width="3"/>
<line x1="1427.2" y1="1295.8" x2="1427.2" y2="1304.3" stroke="#000" stroke-width="3"/>
<line x1="1485.6" y1="1295.8" x2="1485.6" y2="1300.3" stroke="#000" stroke-width="3"/>
<line x1="1543.9" y1="1295.8" x2="1543.9" y2="1304.3" stroke="#000" stroke-width="3"/>
<line x1="1602.2" y1="1295.8" x2="1602.2" y2="1300.3" stroke="#000" stroke-width="3"/>
<line x1="1660.5" y1="1295.8" x2="1660.5" y2="1304.3" stroke="#000" stroke-width="3"/>
<line x1="1718.9" y1="1295.8" x2="1718.9" y2="1300.3" stroke="#000" stroke-width="3"/>
<line x1="1777.2" y1="1295.8" x2="1777.2" y2="1304.3" stroke="#000" stroke-width="3"/>
<line x1="1835.5" y1="1295.8" x2="1835.5" y2="1300.3" stroke="#000" stroke-width="3"/>
<line x1="1893.9" y1="1295.8" x2="1893.9" y2="1304.3" stroke="#000" stroke-width="3"/>
<line x1="1952.2" y1="1295.8" x2="1952.2" y2="1300.3" stroke="#000" stroke-width="3"/>
<line x1="2010.5" y1="1295.8" x2="2010.5" y2="1304.3" stroke="#000" stroke-width="3"/>
<line x1="155.5" y1="1709.6" x2="194.0" y2="1709.6" stroke="#3c7070" stroke-width="2.2"/>
<line x1="155.5" y1="1697.8" x2="184.1" y2="1697.8" stroke="#000" stroke-width="2"/>
<line x1="155.5" y1="1697.8" x2="175.0" y2="1697.8" stroke="#3c7070" stroke-width="1.8"/>
<line x1="155.5" y1="1686.0" x2="184.1" y2="1686.0" stroke="#000" stroke-width="2"/>
<line x1="155.5" y1="1686.0" x2="175.0" y2="1686.0" stroke="#3c7070" stroke-width="1.8"/>
<line x1="155.5" y1="1674.1" x2="184.1" y2="1674.1" stroke="#000" stroke-width="2"/>
<line x1="155.5" y1="1674.1" x2="175.0" y2="1674.1" stroke="#3c7070" stroke-width="1.8"/>
<line x1="155.5" y1="1662.3" x2="184.1" y2="1662.3" stroke="#000" stroke-width="2"/>
<line x1="155.5" y1="1662.3" x2="175.0" y2="1662.3" stroke="#3c7070" stroke-width="1.8"/>
<line x1="155.5" y1="1650.5" x2="194.0" y2="1650.5" stroke="#3c7070" stroke-width="2.2"/>
<line x1="155.5" y1="1638.7" x2="184.1" y2="1638.7" stroke="#000" stroke-width="2"/>
<line x1="155.5" y1="1638.7" x2="175.0" y2="1638.7" stroke="#3c7070" stroke-width="1.8"/>
<line x1="155.5" y1="1626.8" x2="184.1" y2="1626.8" stroke="#000" stroke-width="2"/>
<line x1="155.5" y1="1626.8" x2="175.0" y2="1626.8" stroke="#3c7070" stroke-width="1.8"/>
<line x1="155.5" y1="1615.0" x2="184.1" y2="1615.0" stroke="#000" stroke-width="2"/>
<line x1="155.5" y1="1615.0" x2="175.0" y2="1615.0" stroke="#3c7070" stroke-width="1.8"/>
<line x1="155.5" y1="1603.2" x2="184.1" y2="1603.2" stroke="#000" stroke-width="2"/>
<line x1="155.5" y1="1603.2" x2="175.0" y2="1603.2" stroke="#3c7070" stroke-width="1.8"/>
<line x1="155.5" y1="1591.4" x2="194.0" y2="1591.4" stroke="#3c7070" stroke-width="2.2"/>
<line x1="155.5" y1="1579.5" x2="184.1" y2="1579.5" stroke="#000" stroke-width="2"/>
<line x1="155.5" y1="1579.5" x2="175.0" y2="1579.5" stroke="#3c7070" stroke-width="1.8"/>
<line x1="155.5" y1="1567.7" x2="184.1" y2="1567.7" stroke="#000" stroke-width="2"/>
<line x1="155.5" y1="1567.7" x2="175.0" y2="1567.7" stroke="#3c7070" stroke-width="1.8"/>
<line x1="155.5" y1="1555.9" x2="184.1" y2="1555.9" stroke="#000" stroke-width="2"/>
<line x1="155.5" y1="1555.9" x2="175.0" y2="1555.9" stroke="#3c7070" stroke-width="1.8"/>
<line x1="155.5" y1="1544.1" x2="184.1" y2="1544.1" stroke="#000" stroke-width="2"/>
<line x1="155.5" y1="1544.1" x2="175.0" y2="1544.1" stroke="#3c7070" stroke-width="1.8"/>
<line x1="155.5" y1="1532.3" x2="194.0" y2="1532.3" stroke="#3c7070" stroke-width="2.2"/>
<line x1="155.5" y1="1520.4" x2="184.1" y2="1520.4" stroke="#000" stroke-width="2"/>
<line x1="155.5" y1="1520.4" x2="175.0" y2="1520.4" stroke="#3c7070" stroke-width="1.8"/>
<line x1="155.5" y1="1508.6" x2="184.1" y2="1508.6" stroke="#000" stroke-width="2"/>
<line x1="155.5" y1="1508.6" x2="175.0" y2="1508.6" stroke="#3c7070" stroke-width="1.8"/>
<line x1="155.5" y1="1496.8" x2="184.1" y2="1496.8" stroke="#000" stroke-width="2"/>
<line x1="155.5" y1="1496.8" x2="175.0" y2="1496.8" stroke="#3c7070" stroke-width="1.8"/>
<line x1="155.5" y1="1485.0" x2="184.1" y2="1485.0" stroke="#000" stroke-width="2"/>
<line x1="155.5" y1="1485.0" x2="175.0" y2="1485.0" stroke="#3c7070" stroke-width="1.8"/>
<line x1="155.5" y1="1473.1" x2="194.0" y2="1473.1" stroke="#3c7070" stroke-width="2.2"/>
<line x1="155.5" y1="1461.3" x2="184.1" y2="1461.3" stroke="#000" stroke-width="2"/>
<line x1="155.5" y1="1461.3" x2="175.0" y2="1461.3" stroke="#3c7070" stroke-width="1.8"/>
<line x1="155.5" y1="1449.5" x2="184.1" y2="1449.5" stroke="#000" stroke-width="2"/>
<line x1="155.5" y1="1449.5" x2="175.0" y2="1449.5" stroke="#3c7070" stroke-width="1.8"/>
<line x1="155.5" y1="1437.7" x2="184.1" y2="1437.7" stroke="#000" stroke-width="2"/>
<line x1="155.5" y1="1437.7" x2="175.0" y2="1437.7" stroke="#3c7070" stroke-width="1.8"/>
<line x1="155.5" y1="1425.9" x2="184.1" y2="1425.9" stroke="#000" stroke-width="2"/>
<line x1="155.5" y1="1425.9" x2="175.0" y2="1425.9" stroke="#3c7070" stroke-width="1.8"/>
<line x1="155.5" y1="1414.0" x2="194.0" y2="1414.0" stroke="#3c7070" stroke-width="2.2"/>
<line x1="155.5" y1="1402.2" x2="184.1" y2="1402.2" stroke="#000" stroke-width="2"/>
<line x1="155.5" y1="1402.2" x2="175.0" y2="1402.2" stroke="#3c7070" stroke-width="1.8"/>
<line x1="155.5" y1="1390.4" x2="184.1" y2="1390.4" stroke="#000" stroke-width="2"/>
<line x1="155.5" y1="1390.4" x2="175.0" y2="1390.4" stroke="#3c7070" stroke-width="1.8"/>
<line x1="155.5" y1="1378.6" x2="184.1" y2="1378.6" stroke="#000" stroke-width="2"/>
<line x1="155.5" y1="1378.6" x2="175.0" y2="1378.6" stroke="#3c7070" stroke-width="1.8"/>
<line x1="155.5" y1="1366.7" x2="184.1" y2="1366.7" stroke="#000" stroke-width="2"/>
<line x1="155.5" y1="1366.7" x2="175.0" y2="1366.7" stroke="#3c7070" stroke-width="1.8"/>
<line x1="155.5" y1="1354.9" x2="194.0" y2="1354.9" stroke="#3c7070" stroke-width="2.2"/>
<line x1="155.5" y1="1343.1" x2="184.1" y2="1343.1" stroke="#000" stroke-width="2"/>
<line x1="155.5" y1="1343.1" x2="175.0" y2="1343.1" stroke="#3c7070" stroke-width="1.8"/>
<line x1="155.5" y1="1331.3" x2="184.1" y2="1331.3" stroke="#000" stroke-width="2"/>
<line x1="155.5" y1="1331.3" x2="175.0" y2="1331.3" stroke="#3c7070" stroke-width="1.8"/>
<line x1="155.5" y1="1319.4" x2="184.1" y2="1319.4" stroke="#000" stroke-width="2"/>
<line x1="155.5" y1="1319.4" x2="175.0" y2="1319.4" stroke="#3c7070" stroke-width="1.8"/>
<line x1="155.5" y1="1307.6" x2="184.1" y2="1307.6" stroke="#000" stroke-width="2"/>
<line x1="155.5" y1="1307.6" x2="175.0" y2="1307.6" stroke="#3c7070" stroke-width="1.8"/>
<line x1="155.5" y1="1295.8" x2="194.0" y2="1295.8" stroke="#3c7070" stroke-width="2.2"/>
<line x1="155.2" y1="1294.5" x2="155.2" y2="1710.8" stroke="#3c7070" stroke-width="3"/>
<line x1="2021.1" y1="1294.5" x2="2021.1" y2="1710.6" stroke="#7050a4" stroke-width="1.3"/>
<line x1="2020.1" y1="1294.5" x2="2020.1" y2="1389.8" stroke="#7050a4" stroke-width="2.8"/>
<text x="143.6" y="1320.6" font-size="30.5" text-anchor="end" fill="#3c7070" stroke="#3c7070">35</text>
<text x="143.6" y="1369.2" font-size="30.5" text-anchor="end" fill="#3c7070" stroke="#3c7070">30</text>
<text x="143.6" y="1428.2" font-size="30.5" text-anchor="end" fill="#3c7070" stroke="#3c7070">25</text>
<text x="143.6" y="1487.2" font-size="30.5" text-anchor="end" fill="#3c7070" stroke="#3c7070">20</text>
<text x="143.6" y="1546.4" font-size="30.5" text-anchor="end" fill="#3c7070" stroke="#3c7070">15</text>
<text x="143.6" y="1604.8" font-size="30.5" text-anchor="end" fill="#3c7070" stroke="#3c7070">10</text>
<text x="143.6" y="1665.0" font-size="30.5" text-anchor="end" fill="#3c7070" stroke="#3c7070">5</text>
<text x="143.6" y="1709.5" font-size="30.5" text-anchor="end" fill="#3c7070" stroke="#3c7070">0</text>
<text x="2032.7" y="1320.2" font-size="30.5" fill="#7050a4" stroke="#7050a4">360</text>
<text x="2032.7" y="1412.8" font-size="30.5" fill="#7050a4" stroke="#7050a4">270</text>
<text x="2032.7" y="1516.4" font-size="30.5" fill="#7050a4" stroke="#7050a4">180</text>
<text x="2032.7" y="1619.6" font-size="30.5" fill="#7050a4" stroke="#7050a4">90</text>
<text x="2032.7" y="1709.6" font-size="30.5" fill="#7050a4" stroke="#7050a4">0</text>
<text transform="translate(69.8,1502.5) rotate(-90) scale(0.915,1)" font-size="34.5" text-anchor="middle" fill="#3c7070" stroke="#3c7070">Скорость ветра (km/h)</text>
<text transform="translate(2133.5,1513) rotate(-90) scale(0.915,1)" font-size="34.5" text-anchor="middle" fill="#7050a4" stroke="#7050a4">Направление ветра</text>
<text transform="translate(2114,1335) rotate(-90)" font-size="21" text-anchor="middle" fill="#7050a4">o</text>
<g transform="translate(2186.7,1297.5) rotate(90)" fill="#7050a4"><rect x="-51" y="-2.8" width="36" height="5.6"/><polygon points="0,0 -25,-8.8 -19.5,0 -25,8.8"/></g>
<g transform="translate(2220,1399.3) rotate(0)" fill="#7050a4"><rect x="-65" y="-2.8" width="50" height="5.6"/><polygon points="0,0 -25,-8.8 -19.5,0 -25,8.8"/></g>
<g transform="translate(2186.7,1503) rotate(-90)" fill="#7050a4"><rect x="-51" y="-2.8" width="36" height="5.6"/><polygon points="0,0 -25,-8.8 -19.5,0 -25,8.8"/></g>
<g transform="translate(2154.2,1606.4) rotate(180)" fill="#7050a4"><rect x="-66" y="-2.8" width="51" height="5.6"/><polygon points="0,0 -25,-8.8 -19.5,0 -25,8.8"/></g>
<g transform="translate(2186.7,1710.7) rotate(90)" fill="#7050a4"><rect x="-51" y="-2.8" width="36" height="5.6"/><polygon points="0,0 -25,-8.8 -19.5,0 -25,8.8"/></g>
</svg>
</body></html>
